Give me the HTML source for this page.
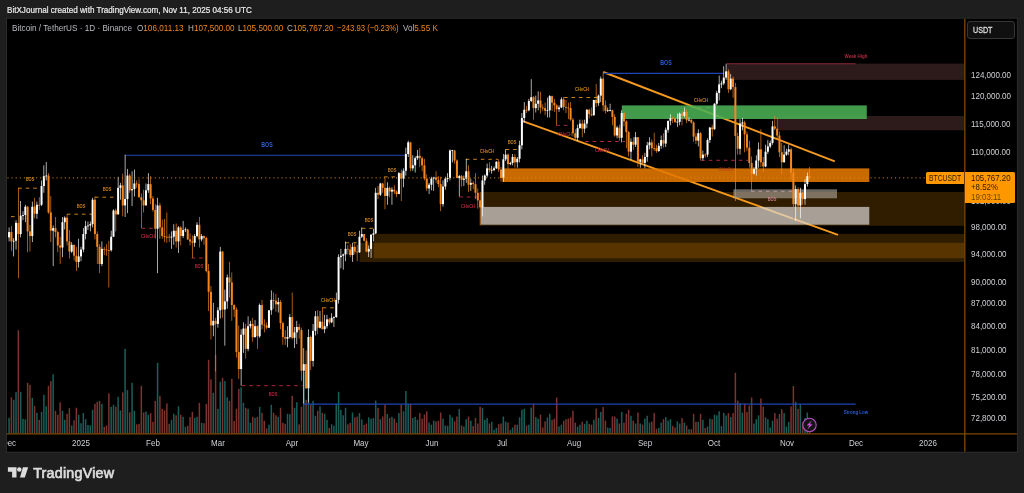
<!DOCTYPE html>
<html><head><meta charset="utf-8"><title>BTCUSDT</title>
<style>
html,body{margin:0;padding:0;background:#1e1e1e;}
body{width:1024px;height:493px;position:relative;overflow:hidden;font-family:"Liberation Sans",sans-serif;}
.t{position:absolute;white-space:nowrap;line-height:1.2;font-family:"Liberation Sans",sans-serif;}
#root{position:absolute;left:0;top:0;width:1024px;height:493px;will-change:transform;}
#clip{position:absolute;left:7.0px;top:18.7px;width:1009.9px;height:433.0px;overflow:hidden;}
</style></head><body>
<div id="root">
<svg width="1024" height="493" viewBox="0 0 1024 493" style="position:absolute;left:0;top:0">
<rect x="6.0" y="17.7" width="1011.9" height="435.0" fill="#2b2b2b"/>
<rect x="7.0" y="18.7" width="1009.9" height="433.0" fill="#000"/>
<clipPath id="cp"><rect x="7.0" y="18.7" width="957.5" height="415.1"/></clipPath>
<g clip-path="url(#cp)">
<rect x="8.31" y="417.80" width="1.5" height="16.00" fill="#195f59"/>
<rect x="10.64" y="397.30" width="1.5" height="36.50" fill="#7d332f"/>
<rect x="12.96" y="399.80" width="1.5" height="34.00" fill="#195f59"/>
<rect x="15.28" y="392.10" width="1.5" height="41.70" fill="#195f59"/>
<rect x="17.60" y="330.20" width="1.5" height="103.60" fill="#7d332f"/>
<rect x="19.92" y="391.80" width="1.5" height="42.00" fill="#195f59"/>
<rect x="22.24" y="418.80" width="1.5" height="15.00" fill="#195f59"/>
<rect x="24.56" y="419.40" width="1.5" height="14.40" fill="#195f59"/>
<rect x="26.88" y="382.80" width="1.5" height="51.00" fill="#7d332f"/>
<rect x="29.20" y="384.80" width="1.5" height="49.00" fill="#7d332f"/>
<rect x="31.52" y="397.80" width="1.5" height="36.00" fill="#195f59"/>
<rect x="33.84" y="405.80" width="1.5" height="28.00" fill="#7d332f"/>
<rect x="36.16" y="412.80" width="1.5" height="21.00" fill="#195f59"/>
<rect x="38.48" y="419.80" width="1.5" height="14.00" fill="#7d332f"/>
<rect x="40.80" y="411.80" width="1.5" height="22.00" fill="#195f59"/>
<rect x="43.12" y="394.80" width="1.5" height="39.00" fill="#195f59"/>
<rect x="45.44" y="406.30" width="1.5" height="27.50" fill="#195f59"/>
<rect x="47.76" y="385.80" width="1.5" height="48.00" fill="#7d332f"/>
<rect x="50.08" y="381.10" width="1.5" height="52.70" fill="#7d332f"/>
<rect x="52.40" y="374.30" width="1.5" height="59.50" fill="#195f59"/>
<rect x="54.72" y="410.80" width="1.5" height="23.00" fill="#7d332f"/>
<rect x="57.05" y="414.80" width="1.5" height="19.00" fill="#7d332f"/>
<rect x="59.37" y="402.30" width="1.5" height="31.50" fill="#7d332f"/>
<rect x="61.69" y="410.80" width="1.5" height="23.00" fill="#195f59"/>
<rect x="64.01" y="419.80" width="1.5" height="14.00" fill="#195f59"/>
<rect x="66.33" y="413.80" width="1.5" height="20.00" fill="#7d332f"/>
<rect x="68.65" y="408.10" width="1.5" height="25.70" fill="#7d332f"/>
<rect x="70.97" y="425.50" width="1.5" height="8.30" fill="#195f59"/>
<rect x="73.29" y="420.30" width="1.5" height="13.50" fill="#7d332f"/>
<rect x="75.61" y="407.80" width="1.5" height="26.00" fill="#7d332f"/>
<rect x="77.93" y="414.80" width="1.5" height="19.00" fill="#195f59"/>
<rect x="80.25" y="423.20" width="1.5" height="10.60" fill="#195f59"/>
<rect x="82.57" y="413.10" width="1.5" height="20.70" fill="#195f59"/>
<rect x="84.89" y="419.20" width="1.5" height="14.60" fill="#195f59"/>
<rect x="87.21" y="425.00" width="1.5" height="8.80" fill="#195f59"/>
<rect x="89.53" y="425.50" width="1.5" height="8.30" fill="#195f59"/>
<rect x="91.85" y="409.80" width="1.5" height="24.00" fill="#195f59"/>
<rect x="94.17" y="403.80" width="1.5" height="30.00" fill="#7d332f"/>
<rect x="96.49" y="401.80" width="1.5" height="32.00" fill="#7d332f"/>
<rect x="98.81" y="400.80" width="1.5" height="33.00" fill="#7d332f"/>
<rect x="101.13" y="403.80" width="1.5" height="30.00" fill="#195f59"/>
<rect x="103.45" y="426.80" width="1.5" height="7.00" fill="#7d332f"/>
<rect x="105.78" y="425.50" width="1.5" height="8.30" fill="#7d332f"/>
<rect x="108.10" y="393.30" width="1.5" height="40.50" fill="#7d332f"/>
<rect x="110.42" y="406.80" width="1.5" height="27.00" fill="#195f59"/>
<rect x="112.74" y="404.80" width="1.5" height="29.00" fill="#195f59"/>
<rect x="115.06" y="406.80" width="1.5" height="27.00" fill="#7d332f"/>
<rect x="117.38" y="396.80" width="1.5" height="37.00" fill="#195f59"/>
<rect x="119.70" y="410.40" width="1.5" height="23.40" fill="#195f59"/>
<rect x="122.02" y="392.40" width="1.5" height="41.40" fill="#7d332f"/>
<rect x="124.34" y="348.80" width="1.5" height="85.00" fill="#195f59"/>
<rect x="126.66" y="390.10" width="1.5" height="43.70" fill="#195f59"/>
<rect x="128.98" y="412.40" width="1.5" height="21.40" fill="#7d332f"/>
<rect x="131.30" y="382.80" width="1.5" height="51.00" fill="#195f59"/>
<rect x="133.62" y="410.80" width="1.5" height="23.00" fill="#195f59"/>
<rect x="135.94" y="424.30" width="1.5" height="9.50" fill="#7d332f"/>
<rect x="138.26" y="423.80" width="1.5" height="10.00" fill="#7d332f"/>
<rect x="140.58" y="385.80" width="1.5" height="48.00" fill="#7d332f"/>
<rect x="142.90" y="412.40" width="1.5" height="21.40" fill="#7d332f"/>
<rect x="145.22" y="411.50" width="1.5" height="22.30" fill="#195f59"/>
<rect x="147.54" y="414.80" width="1.5" height="19.00" fill="#195f59"/>
<rect x="149.87" y="413.10" width="1.5" height="20.70" fill="#7d332f"/>
<rect x="152.19" y="421.80" width="1.5" height="12.00" fill="#7d332f"/>
<rect x="154.51" y="400.80" width="1.5" height="33.00" fill="#7d332f"/>
<rect x="156.83" y="362.80" width="1.5" height="71.00" fill="#195f59"/>
<rect x="159.15" y="395.80" width="1.5" height="38.00" fill="#7d332f"/>
<rect x="161.47" y="408.80" width="1.5" height="25.00" fill="#7d332f"/>
<rect x="163.79" y="410.40" width="1.5" height="23.40" fill="#7d332f"/>
<rect x="166.11" y="403.40" width="1.5" height="30.40" fill="#7d332f"/>
<rect x="168.43" y="423.80" width="1.5" height="10.00" fill="#7d332f"/>
<rect x="170.75" y="419.80" width="1.5" height="14.00" fill="#195f59"/>
<rect x="173.07" y="413.80" width="1.5" height="20.00" fill="#195f59"/>
<rect x="175.39" y="415.30" width="1.5" height="18.50" fill="#7d332f"/>
<rect x="177.71" y="406.30" width="1.5" height="27.50" fill="#195f59"/>
<rect x="180.03" y="414.80" width="1.5" height="19.00" fill="#7d332f"/>
<rect x="182.35" y="416.80" width="1.5" height="17.00" fill="#195f59"/>
<rect x="184.67" y="426.80" width="1.5" height="7.00" fill="#195f59"/>
<rect x="186.99" y="425.80" width="1.5" height="8.00" fill="#7d332f"/>
<rect x="189.31" y="417.10" width="1.5" height="16.70" fill="#7d332f"/>
<rect x="191.63" y="411.80" width="1.5" height="22.00" fill="#7d332f"/>
<rect x="193.95" y="417.80" width="1.5" height="16.00" fill="#195f59"/>
<rect x="196.28" y="416.80" width="1.5" height="17.00" fill="#195f59"/>
<rect x="198.60" y="402.80" width="1.5" height="31.00" fill="#7d332f"/>
<rect x="200.92" y="422.80" width="1.5" height="11.00" fill="#195f59"/>
<rect x="203.24" y="423.20" width="1.5" height="10.60" fill="#7d332f"/>
<rect x="205.56" y="403.80" width="1.5" height="30.00" fill="#7d332f"/>
<rect x="207.88" y="359.80" width="1.5" height="74.00" fill="#7d332f"/>
<rect x="210.20" y="379.30" width="1.5" height="54.50" fill="#7d332f"/>
<rect x="212.52" y="392.80" width="1.5" height="41.00" fill="#195f59"/>
<rect x="214.84" y="354.80" width="1.5" height="79.00" fill="#7d332f"/>
<rect x="217.16" y="408.80" width="1.5" height="25.00" fill="#195f59"/>
<rect x="219.48" y="381.80" width="1.5" height="52.00" fill="#195f59"/>
<rect x="221.80" y="377.80" width="1.5" height="56.00" fill="#7d332f"/>
<rect x="224.12" y="381.10" width="1.5" height="52.70" fill="#195f59"/>
<rect x="226.44" y="397.30" width="1.5" height="36.50" fill="#195f59"/>
<rect x="228.76" y="400.80" width="1.5" height="33.00" fill="#7d332f"/>
<rect x="231.08" y="378.80" width="1.5" height="55.00" fill="#7d332f"/>
<rect x="233.40" y="421.00" width="1.5" height="12.80" fill="#7d332f"/>
<rect x="235.72" y="408.80" width="1.5" height="25.00" fill="#7d332f"/>
<rect x="238.04" y="388.80" width="1.5" height="45.00" fill="#7d332f"/>
<rect x="240.36" y="387.20" width="1.5" height="46.60" fill="#195f59"/>
<rect x="242.69" y="402.80" width="1.5" height="31.00" fill="#195f59"/>
<rect x="245.01" y="407.80" width="1.5" height="26.00" fill="#7d332f"/>
<rect x="247.33" y="408.80" width="1.5" height="25.00" fill="#195f59"/>
<rect x="249.65" y="422.80" width="1.5" height="11.00" fill="#195f59"/>
<rect x="251.97" y="416.80" width="1.5" height="17.00" fill="#7d332f"/>
<rect x="254.29" y="417.80" width="1.5" height="16.00" fill="#195f59"/>
<rect x="256.61" y="416.80" width="1.5" height="17.00" fill="#7d332f"/>
<rect x="258.93" y="406.80" width="1.5" height="27.00" fill="#195f59"/>
<rect x="261.25" y="412.80" width="1.5" height="21.00" fill="#7d332f"/>
<rect x="263.57" y="420.80" width="1.5" height="13.00" fill="#7d332f"/>
<rect x="265.89" y="428.40" width="1.5" height="5.40" fill="#7d332f"/>
<rect x="268.21" y="424.80" width="1.5" height="9.00" fill="#195f59"/>
<rect x="270.53" y="404.80" width="1.5" height="29.00" fill="#195f59"/>
<rect x="272.85" y="412.80" width="1.5" height="21.00" fill="#7d332f"/>
<rect x="275.17" y="415.30" width="1.5" height="18.50" fill="#7d332f"/>
<rect x="277.49" y="416.80" width="1.5" height="17.00" fill="#195f59"/>
<rect x="279.81" y="407.80" width="1.5" height="26.00" fill="#7d332f"/>
<rect x="282.13" y="422.80" width="1.5" height="11.00" fill="#7d332f"/>
<rect x="284.45" y="423.80" width="1.5" height="10.00" fill="#7d332f"/>
<rect x="286.77" y="413.80" width="1.5" height="20.00" fill="#195f59"/>
<rect x="289.10" y="414.20" width="1.5" height="19.60" fill="#195f59"/>
<rect x="291.42" y="395.80" width="1.5" height="38.00" fill="#7d332f"/>
<rect x="293.74" y="407.80" width="1.5" height="26.00" fill="#195f59"/>
<rect x="296.06" y="402.30" width="1.5" height="31.50" fill="#195f59"/>
<rect x="298.38" y="424.30" width="1.5" height="9.50" fill="#7d332f"/>
<rect x="300.70" y="406.80" width="1.5" height="27.00" fill="#7d332f"/>
<rect x="303.02" y="371.80" width="1.5" height="62.00" fill="#195f59"/>
<rect x="305.34" y="399.80" width="1.5" height="34.00" fill="#7d332f"/>
<rect x="307.66" y="383.80" width="1.5" height="50.00" fill="#195f59"/>
<rect x="309.98" y="403.80" width="1.5" height="30.00" fill="#7d332f"/>
<rect x="312.30" y="400.80" width="1.5" height="33.00" fill="#195f59"/>
<rect x="314.62" y="415.80" width="1.5" height="18.00" fill="#195f59"/>
<rect x="316.94" y="410.80" width="1.5" height="23.00" fill="#7d332f"/>
<rect x="319.26" y="406.30" width="1.5" height="27.50" fill="#195f59"/>
<rect x="321.58" y="412.80" width="1.5" height="21.00" fill="#7d332f"/>
<rect x="323.90" y="413.80" width="1.5" height="20.00" fill="#195f59"/>
<rect x="326.22" y="419.80" width="1.5" height="14.00" fill="#195f59"/>
<rect x="328.54" y="427.80" width="1.5" height="6.00" fill="#7d332f"/>
<rect x="330.86" y="424.30" width="1.5" height="9.50" fill="#195f59"/>
<rect x="333.18" y="425.80" width="1.5" height="8.00" fill="#195f59"/>
<rect x="335.50" y="403.80" width="1.5" height="30.00" fill="#195f59"/>
<rect x="337.83" y="391.80" width="1.5" height="42.00" fill="#195f59"/>
<rect x="340.15" y="409.80" width="1.5" height="24.00" fill="#195f59"/>
<rect x="342.47" y="415.30" width="1.5" height="18.50" fill="#195f59"/>
<rect x="344.79" y="407.80" width="1.5" height="26.00" fill="#195f59"/>
<rect x="347.11" y="424.30" width="1.5" height="9.50" fill="#7d332f"/>
<rect x="349.43" y="422.80" width="1.5" height="11.00" fill="#7d332f"/>
<rect x="351.75" y="412.50" width="1.5" height="21.30" fill="#195f59"/>
<rect x="354.07" y="417.40" width="1.5" height="16.40" fill="#7d332f"/>
<rect x="356.39" y="416.50" width="1.5" height="17.30" fill="#7d332f"/>
<rect x="358.71" y="413.10" width="1.5" height="20.70" fill="#195f59"/>
<rect x="361.03" y="419.40" width="1.5" height="14.40" fill="#195f59"/>
<rect x="363.35" y="424.80" width="1.5" height="9.00" fill="#7d332f"/>
<rect x="365.67" y="423.50" width="1.5" height="10.30" fill="#7d332f"/>
<rect x="367.99" y="417.40" width="1.5" height="16.40" fill="#195f59"/>
<rect x="370.31" y="418.80" width="1.5" height="15.00" fill="#195f59"/>
<rect x="372.63" y="418.00" width="1.5" height="15.80" fill="#195f59"/>
<rect x="374.95" y="400.60" width="1.5" height="33.20" fill="#195f59"/>
<rect x="377.27" y="407.80" width="1.5" height="26.00" fill="#7d332f"/>
<rect x="379.59" y="419.20" width="1.5" height="14.60" fill="#195f59"/>
<rect x="381.92" y="416.50" width="1.5" height="17.30" fill="#7d332f"/>
<rect x="384.24" y="404.60" width="1.5" height="29.20" fill="#7d332f"/>
<rect x="386.56" y="414.00" width="1.5" height="19.80" fill="#195f59"/>
<rect x="388.88" y="418.00" width="1.5" height="15.80" fill="#7d332f"/>
<rect x="391.20" y="416.80" width="1.5" height="17.00" fill="#195f59"/>
<rect x="393.52" y="418.60" width="1.5" height="15.20" fill="#7d332f"/>
<rect x="395.84" y="422.60" width="1.5" height="11.20" fill="#7d332f"/>
<rect x="398.16" y="413.10" width="1.5" height="20.70" fill="#195f59"/>
<rect x="400.48" y="404.80" width="1.5" height="29.00" fill="#7d332f"/>
<rect x="402.80" y="411.30" width="1.5" height="22.50" fill="#195f59"/>
<rect x="405.12" y="391.00" width="1.5" height="42.80" fill="#195f59"/>
<rect x="407.44" y="404.00" width="1.5" height="29.80" fill="#195f59"/>
<rect x="409.76" y="404.00" width="1.5" height="29.80" fill="#7d332f"/>
<rect x="412.08" y="418.00" width="1.5" height="15.80" fill="#195f59"/>
<rect x="414.40" y="416.80" width="1.5" height="17.00" fill="#195f59"/>
<rect x="416.72" y="419.80" width="1.5" height="14.00" fill="#195f59"/>
<rect x="419.04" y="413.10" width="1.5" height="20.70" fill="#7d332f"/>
<rect x="421.36" y="418.60" width="1.5" height="15.20" fill="#7d332f"/>
<rect x="423.68" y="414.60" width="1.5" height="19.20" fill="#7d332f"/>
<rect x="426.00" y="411.30" width="1.5" height="22.50" fill="#7d332f"/>
<rect x="428.32" y="422.60" width="1.5" height="11.20" fill="#195f59"/>
<rect x="430.65" y="424.70" width="1.5" height="9.10" fill="#195f59"/>
<rect x="432.97" y="420.70" width="1.5" height="13.10" fill="#195f59"/>
<rect x="435.29" y="421.40" width="1.5" height="12.40" fill="#7d332f"/>
<rect x="437.61" y="420.70" width="1.5" height="13.10" fill="#7d332f"/>
<rect x="439.93" y="412.50" width="1.5" height="21.30" fill="#7d332f"/>
<rect x="442.25" y="418.60" width="1.5" height="15.20" fill="#195f59"/>
<rect x="444.57" y="425.50" width="1.5" height="8.30" fill="#195f59"/>
<rect x="446.89" y="425.80" width="1.5" height="8.00" fill="#195f59"/>
<rect x="449.21" y="414.80" width="1.5" height="19.00" fill="#195f59"/>
<rect x="451.53" y="417.40" width="1.5" height="16.40" fill="#195f59"/>
<rect x="453.85" y="421.40" width="1.5" height="12.40" fill="#7d332f"/>
<rect x="456.17" y="416.50" width="1.5" height="17.30" fill="#7d332f"/>
<rect x="458.49" y="409.10" width="1.5" height="24.70" fill="#195f59"/>
<rect x="460.81" y="425.50" width="1.5" height="8.30" fill="#7d332f"/>
<rect x="463.13" y="426.50" width="1.5" height="7.30" fill="#195f59"/>
<rect x="465.45" y="419.20" width="1.5" height="14.60" fill="#195f59"/>
<rect x="467.77" y="416.50" width="1.5" height="17.30" fill="#7d332f"/>
<rect x="470.09" y="420.70" width="1.5" height="13.10" fill="#195f59"/>
<rect x="472.41" y="425.90" width="1.5" height="7.90" fill="#7d332f"/>
<rect x="474.74" y="417.80" width="1.5" height="16.00" fill="#7d332f"/>
<rect x="477.06" y="423.50" width="1.5" height="10.30" fill="#7d332f"/>
<rect x="479.38" y="406.70" width="1.5" height="27.10" fill="#7d332f"/>
<rect x="481.70" y="407.80" width="1.5" height="26.00" fill="#195f59"/>
<rect x="484.02" y="419.80" width="1.5" height="14.00" fill="#195f59"/>
<rect x="486.34" y="418.00" width="1.5" height="15.80" fill="#195f59"/>
<rect x="488.66" y="423.50" width="1.5" height="10.30" fill="#7d332f"/>
<rect x="490.98" y="421.80" width="1.5" height="12.00" fill="#195f59"/>
<rect x="493.30" y="429.80" width="1.5" height="4.00" fill="#195f59"/>
<rect x="495.62" y="427.80" width="1.5" height="6.00" fill="#195f59"/>
<rect x="497.94" y="424.10" width="1.5" height="9.70" fill="#7d332f"/>
<rect x="500.26" y="423.50" width="1.5" height="10.30" fill="#7d332f"/>
<rect x="502.58" y="416.50" width="1.5" height="17.30" fill="#195f59"/>
<rect x="504.90" y="421.60" width="1.5" height="12.20" fill="#195f59"/>
<rect x="507.22" y="422.60" width="1.5" height="11.20" fill="#7d332f"/>
<rect x="509.54" y="429.80" width="1.5" height="4.00" fill="#195f59"/>
<rect x="511.86" y="427.50" width="1.5" height="6.30" fill="#195f59"/>
<rect x="514.18" y="424.70" width="1.5" height="9.10" fill="#7d332f"/>
<rect x="516.50" y="424.70" width="1.5" height="9.10" fill="#195f59"/>
<rect x="518.82" y="417.40" width="1.5" height="16.40" fill="#195f59"/>
<rect x="521.14" y="409.80" width="1.5" height="24.00" fill="#195f59"/>
<rect x="523.47" y="408.80" width="1.5" height="25.00" fill="#195f59"/>
<rect x="525.79" y="425.50" width="1.5" height="8.30" fill="#7d332f"/>
<rect x="528.11" y="424.70" width="1.5" height="9.10" fill="#195f59"/>
<rect x="530.43" y="407.60" width="1.5" height="26.20" fill="#195f59"/>
<rect x="532.75" y="403.60" width="1.5" height="30.20" fill="#7d332f"/>
<rect x="535.07" y="417.10" width="1.5" height="16.70" fill="#195f59"/>
<rect x="537.39" y="418.60" width="1.5" height="15.20" fill="#195f59"/>
<rect x="539.71" y="414.60" width="1.5" height="19.20" fill="#7d332f"/>
<rect x="542.03" y="427.50" width="1.5" height="6.30" fill="#7d332f"/>
<rect x="544.35" y="421.40" width="1.5" height="12.40" fill="#7d332f"/>
<rect x="546.67" y="417.40" width="1.5" height="16.40" fill="#195f59"/>
<rect x="548.99" y="413.80" width="1.5" height="20.00" fill="#195f59"/>
<rect x="551.31" y="419.80" width="1.5" height="14.00" fill="#7d332f"/>
<rect x="553.63" y="418.60" width="1.5" height="15.20" fill="#7d332f"/>
<rect x="555.95" y="397.50" width="1.5" height="36.30" fill="#7d332f"/>
<rect x="558.27" y="426.50" width="1.5" height="7.30" fill="#195f59"/>
<rect x="560.59" y="424.70" width="1.5" height="9.10" fill="#195f59"/>
<rect x="562.91" y="420.70" width="1.5" height="13.10" fill="#7d332f"/>
<rect x="565.23" y="419.20" width="1.5" height="14.60" fill="#7d332f"/>
<rect x="567.56" y="418.60" width="1.5" height="15.20" fill="#7d332f"/>
<rect x="569.88" y="417.40" width="1.5" height="16.40" fill="#7d332f"/>
<rect x="572.20" y="410.70" width="1.5" height="23.10" fill="#7d332f"/>
<rect x="574.52" y="422.60" width="1.5" height="11.20" fill="#7d332f"/>
<rect x="576.84" y="426.50" width="1.5" height="7.30" fill="#195f59"/>
<rect x="579.16" y="424.70" width="1.5" height="9.10" fill="#195f59"/>
<rect x="581.48" y="421.80" width="1.5" height="12.00" fill="#7d332f"/>
<rect x="583.80" y="423.80" width="1.5" height="10.00" fill="#195f59"/>
<rect x="586.12" y="420.70" width="1.5" height="13.10" fill="#195f59"/>
<rect x="588.44" y="423.80" width="1.5" height="10.00" fill="#7d332f"/>
<rect x="590.76" y="424.70" width="1.5" height="9.10" fill="#7d332f"/>
<rect x="593.08" y="419.80" width="1.5" height="14.00" fill="#195f59"/>
<rect x="595.40" y="408.50" width="1.5" height="25.30" fill="#7d332f"/>
<rect x="597.72" y="418.00" width="1.5" height="15.80" fill="#195f59"/>
<rect x="600.04" y="411.90" width="1.5" height="21.90" fill="#195f59"/>
<rect x="602.36" y="407.00" width="1.5" height="26.80" fill="#7d332f"/>
<rect x="604.68" y="420.70" width="1.5" height="13.10" fill="#7d332f"/>
<rect x="607.00" y="427.50" width="1.5" height="6.30" fill="#195f59"/>
<rect x="609.32" y="428.00" width="1.5" height="5.80" fill="#195f59"/>
<rect x="611.64" y="416.50" width="1.5" height="17.30" fill="#7d332f"/>
<rect x="613.97" y="416.50" width="1.5" height="17.30" fill="#7d332f"/>
<rect x="616.29" y="418.60" width="1.5" height="15.20" fill="#195f59"/>
<rect x="618.61" y="423.50" width="1.5" height="10.30" fill="#7d332f"/>
<rect x="620.93" y="411.90" width="1.5" height="21.90" fill="#195f59"/>
<rect x="623.25" y="422.60" width="1.5" height="11.20" fill="#7d332f"/>
<rect x="625.57" y="413.80" width="1.5" height="20.00" fill="#7d332f"/>
<rect x="627.89" y="409.80" width="1.5" height="24.00" fill="#7d332f"/>
<rect x="630.21" y="415.80" width="1.5" height="18.00" fill="#195f59"/>
<rect x="632.53" y="420.70" width="1.5" height="13.10" fill="#7d332f"/>
<rect x="634.85" y="423.50" width="1.5" height="10.30" fill="#195f59"/>
<rect x="637.17" y="412.50" width="1.5" height="21.30" fill="#7d332f"/>
<rect x="639.49" y="423.50" width="1.5" height="10.30" fill="#195f59"/>
<rect x="641.81" y="424.70" width="1.5" height="9.10" fill="#7d332f"/>
<rect x="644.13" y="418.60" width="1.5" height="15.20" fill="#195f59"/>
<rect x="646.45" y="415.80" width="1.5" height="18.00" fill="#195f59"/>
<rect x="648.77" y="422.60" width="1.5" height="11.20" fill="#195f59"/>
<rect x="651.09" y="421.60" width="1.5" height="12.20" fill="#7d332f"/>
<rect x="653.41" y="412.90" width="1.5" height="20.90" fill="#7d332f"/>
<rect x="655.73" y="428.70" width="1.5" height="5.10" fill="#7d332f"/>
<rect x="658.05" y="428.00" width="1.5" height="5.80" fill="#195f59"/>
<rect x="660.38" y="422.60" width="1.5" height="11.20" fill="#195f59"/>
<rect x="662.70" y="419.20" width="1.5" height="14.60" fill="#7d332f"/>
<rect x="665.02" y="417.10" width="1.5" height="16.70" fill="#195f59"/>
<rect x="667.34" y="420.70" width="1.5" height="13.10" fill="#195f59"/>
<rect x="669.66" y="419.20" width="1.5" height="14.60" fill="#195f59"/>
<rect x="671.98" y="425.90" width="1.5" height="7.90" fill="#7d332f"/>
<rect x="674.30" y="427.50" width="1.5" height="6.30" fill="#7d332f"/>
<rect x="676.62" y="421.40" width="1.5" height="12.40" fill="#195f59"/>
<rect x="678.94" y="423.50" width="1.5" height="10.30" fill="#195f59"/>
<rect x="681.26" y="418.00" width="1.5" height="15.80" fill="#7d332f"/>
<rect x="683.58" y="422.60" width="1.5" height="11.20" fill="#195f59"/>
<rect x="685.90" y="425.50" width="1.5" height="8.30" fill="#7d332f"/>
<rect x="688.22" y="429.20" width="1.5" height="4.60" fill="#195f59"/>
<rect x="690.54" y="429.20" width="1.5" height="4.60" fill="#7d332f"/>
<rect x="692.86" y="413.80" width="1.5" height="20.00" fill="#7d332f"/>
<rect x="695.18" y="421.80" width="1.5" height="12.00" fill="#7d332f"/>
<rect x="697.50" y="421.80" width="1.5" height="12.00" fill="#195f59"/>
<rect x="699.82" y="413.80" width="1.5" height="20.00" fill="#7d332f"/>
<rect x="702.14" y="419.80" width="1.5" height="14.00" fill="#195f59"/>
<rect x="704.46" y="428.00" width="1.5" height="5.80" fill="#7d332f"/>
<rect x="706.78" y="426.50" width="1.5" height="7.30" fill="#195f59"/>
<rect x="709.11" y="418.60" width="1.5" height="15.20" fill="#195f59"/>
<rect x="711.43" y="419.20" width="1.5" height="14.60" fill="#7d332f"/>
<rect x="713.75" y="414.70" width="1.5" height="19.10" fill="#195f59"/>
<rect x="716.07" y="415.30" width="1.5" height="18.50" fill="#195f59"/>
<rect x="718.39" y="411.30" width="1.5" height="22.50" fill="#195f59"/>
<rect x="720.71" y="425.90" width="1.5" height="7.90" fill="#195f59"/>
<rect x="723.03" y="412.80" width="1.5" height="21.00" fill="#195f59"/>
<rect x="725.35" y="415.50" width="1.5" height="18.30" fill="#195f59"/>
<rect x="727.67" y="413.10" width="1.5" height="20.70" fill="#7d332f"/>
<rect x="729.99" y="417.10" width="1.5" height="16.70" fill="#195f59"/>
<rect x="732.31" y="413.10" width="1.5" height="20.70" fill="#7d332f"/>
<rect x="734.63" y="372.80" width="1.5" height="61.00" fill="#7d332f"/>
<rect x="736.95" y="400.60" width="1.5" height="33.20" fill="#7d332f"/>
<rect x="739.27" y="403.10" width="1.5" height="30.70" fill="#195f59"/>
<rect x="741.59" y="412.50" width="1.5" height="21.30" fill="#195f59"/>
<rect x="743.91" y="403.60" width="1.5" height="30.20" fill="#7d332f"/>
<rect x="746.23" y="411.90" width="1.5" height="21.90" fill="#7d332f"/>
<rect x="748.55" y="405.60" width="1.5" height="28.20" fill="#7d332f"/>
<rect x="750.87" y="397.50" width="1.5" height="36.30" fill="#7d332f"/>
<rect x="753.20" y="423.50" width="1.5" height="10.30" fill="#195f59"/>
<rect x="755.52" y="419.20" width="1.5" height="14.60" fill="#195f59"/>
<rect x="757.84" y="415.30" width="1.5" height="18.50" fill="#195f59"/>
<rect x="760.16" y="398.50" width="1.5" height="35.30" fill="#7d332f"/>
<rect x="762.48" y="406.70" width="1.5" height="27.10" fill="#7d332f"/>
<rect x="764.80" y="417.40" width="1.5" height="16.40" fill="#195f59"/>
<rect x="767.12" y="419.20" width="1.5" height="14.60" fill="#195f59"/>
<rect x="769.44" y="427.50" width="1.5" height="6.30" fill="#195f59"/>
<rect x="771.76" y="420.70" width="1.5" height="13.10" fill="#195f59"/>
<rect x="774.08" y="413.10" width="1.5" height="20.70" fill="#7d332f"/>
<rect x="776.40" y="418.60" width="1.5" height="15.20" fill="#7d332f"/>
<rect x="778.72" y="414.00" width="1.5" height="19.80" fill="#7d332f"/>
<rect x="781.04" y="409.20" width="1.5" height="24.60" fill="#7d332f"/>
<rect x="783.36" y="413.10" width="1.5" height="20.70" fill="#195f59"/>
<rect x="785.68" y="426.50" width="1.5" height="7.30" fill="#195f59"/>
<rect x="788.00" y="421.80" width="1.5" height="12.00" fill="#195f59"/>
<rect x="790.32" y="406.40" width="1.5" height="27.40" fill="#7d332f"/>
<rect x="792.64" y="386.00" width="1.5" height="47.80" fill="#7d332f"/>
<rect x="794.96" y="401.80" width="1.5" height="32.00" fill="#195f59"/>
<rect x="797.28" y="408.80" width="1.5" height="25.00" fill="#7d332f"/>
<rect x="799.61" y="404.00" width="1.5" height="29.80" fill="#195f59"/>
<rect x="801.93" y="422.30" width="1.5" height="11.50" fill="#7d332f"/>
<rect x="804.25" y="418.00" width="1.5" height="15.80" fill="#195f59"/>
<rect x="806.57" y="412.50" width="1.5" height="21.30" fill="#195f59"/>
<rect x="808.89" y="421.80" width="1.5" height="12.00" fill="#7d332f"/>
<line x1="18.2" y1="188.2" x2="37.7" y2="188.2" stroke="#c8801c" stroke-width="1.0" stroke-dasharray="3.6 3.9"/>
<line x1="11" y1="216.6" x2="15" y2="216.6" stroke="#c8801c" stroke-width="1.0" stroke-dasharray="3.6 3.9"/>
<line x1="66.9" y1="214.2" x2="92.5" y2="214.2" stroke="#c8801c" stroke-width="1.0" stroke-dasharray="3.6 3.9"/>
<line x1="94.9" y1="197.2" x2="116.8" y2="197.2" stroke="#c8801c" stroke-width="1.0" stroke-dasharray="3.6 3.9"/>
<line x1="141.6" y1="228.3" x2="155.7" y2="228.3" stroke="#b0283f" stroke-width="1.0" stroke-dasharray="3.6 3.9"/>
<line x1="191.6" y1="258" x2="204.4" y2="258" stroke="#b0283f" stroke-width="1.0" stroke-dasharray="3.6 3.9"/>
<line x1="241.7" y1="385.7" x2="302.5" y2="385.7" stroke="#b0283f" stroke-width="1.0" stroke-dasharray="3.6 3.9"/>
<line x1="322.6" y1="307.8" x2="334" y2="307.8" stroke="#c8801c" stroke-width="1.0" stroke-dasharray="3.6 3.9"/>
<line x1="345.6" y1="242.8" x2="357" y2="242.8" stroke="#c8801c" stroke-width="1.0" stroke-dasharray="3.6 3.9"/>
<line x1="361.8" y1="228.3" x2="374" y2="228.3" stroke="#c8801c" stroke-width="1.0" stroke-dasharray="3.6 3.9"/>
<line x1="384" y1="176.9" x2="398.2" y2="176.9" stroke="#c8801c" stroke-width="1.0" stroke-dasharray="3.6 3.9"/>
<line x1="459.3" y1="197" x2="477.2" y2="197" stroke="#b0283f" stroke-width="1.0" stroke-dasharray="3.6 3.9"/>
<line x1="465.8" y1="159.3" x2="498.2" y2="159.3" stroke="#c8801c" stroke-width="1.0" stroke-dasharray="3.6 3.9"/>
<line x1="505.6" y1="149.5" x2="517.5" y2="149.5" stroke="#c8801c" stroke-width="1.0" stroke-dasharray="3.6 3.9"/>
<line x1="564" y1="97.5" x2="598" y2="97.5" stroke="#c8801c" stroke-width="1.0" stroke-dasharray="3.6 3.9"/>
<line x1="556.3" y1="125.3" x2="571" y2="125.3" stroke="#b0283f" stroke-width="1.0" stroke-dasharray="3.6 3.9"/>
<line x1="585.2" y1="141.5" x2="625" y2="141.5" stroke="#b0283f" stroke-width="1.0" stroke-dasharray="3.6 3.9"/>
<line x1="691" y1="107.7" x2="711" y2="107.7" stroke="#8fbf5a" stroke-width="1.0" stroke-dasharray="3.6 3.9"/>
<line x1="701.3" y1="160.3" x2="748" y2="160.3" stroke="#b0283f" stroke-width="1.0" stroke-dasharray="3.6 3.9"/>
<line x1="751" y1="191.3" x2="792" y2="191.3" stroke="#c9808a" stroke-width="1.0" stroke-dasharray="3.6 3.9"/>
<line x1="603.3" y1="72" x2="834.8" y2="161.4" stroke="#f59a1f" stroke-width="1.9"/>
<line x1="522.7" y1="121.1" x2="838" y2="234.8" stroke="#f59a1f" stroke-width="1.9"/>
<line x1="125.3" y1="155.2" x2="406" y2="155.2" stroke="#1f45b5" stroke-width="1.1"/>
<line x1="603.7" y1="73.4" x2="724" y2="73.4" stroke="#1f45b5" stroke-width="1.1"/>
<line x1="304" y1="404.1" x2="855.7" y2="404.1" stroke="#1f45b5" stroke-width="1.3"/>
<rect x="726.8" y="63.6" width="237.70" height="16.30" fill="#2d1a1b" fill-opacity="1"/>
<rect x="777.5" y="116" width="187.00" height="14.30" fill="#2d1a1b" fill-opacity="1"/>
<rect x="621.8" y="105.4" width="245.00" height="13.60" fill="#4ab054" fill-opacity="0.88"/>
<rect x="502.4" y="168.4" width="366.90" height="13.60" fill="#e47900" fill-opacity="0.88"/>
<rect x="480.6" y="192" width="483.90" height="33.80" fill="#ff9800" fill-opacity="0.19"/>
<rect x="733.4" y="189.3" width="103.60" height="9.00" fill="#b0a69c" fill-opacity="0.62"/>
<rect x="480.6" y="206.9" width="388.70" height="17.80" fill="#dcd9d6" fill-opacity="0.7"/>
<rect x="373.8" y="233.9" width="590.70" height="24.30" fill="#ff9800" fill-opacity="0.19"/>
<rect x="359.6" y="242.8" width="604.90" height="19.20" fill="#ff9800" fill-opacity="0.19"/>
<line x1="726.8" y1="63.7" x2="855.6" y2="63.7" stroke="#8a2835" stroke-width="1.1"/>
<rect x="8.73" y="227.44" width="0.66" height="13.99" fill="#ffffff"/>
<rect x="8.06" y="232.06" width="2.0" height="5.33" fill="#ffffff"/>
<rect x="11.06" y="226.12" width="0.66" height="24.80" fill="#f5871f"/>
<rect x="10.39" y="232.06" width="2.0" height="9.36" fill="#f5871f"/>
<rect x="13.38" y="238.06" width="0.66" height="18.34" fill="#ffffff"/>
<rect x="12.71" y="240.75" width="2.0" height="0.80" fill="#ffffff"/>
<rect x="15.70" y="220.23" width="0.66" height="29.32" fill="#ffffff"/>
<rect x="15.03" y="222.84" width="2.0" height="17.91" fill="#ffffff"/>
<rect x="18.02" y="187.83" width="0.66" height="90.30" fill="#f5871f"/>
<rect x="17.35" y="222.84" width="2.0" height="11.22" fill="#f5871f"/>
<rect x="20.34" y="200.97" width="0.66" height="36.42" fill="#ffffff"/>
<rect x="19.67" y="215.68" width="2.0" height="18.37" fill="#ffffff"/>
<rect x="22.66" y="211.17" width="0.66" height="9.06" fill="#ffffff"/>
<rect x="21.99" y="215.04" width="2.0" height="0.80" fill="#ffffff"/>
<rect x="24.98" y="204.78" width="0.66" height="17.41" fill="#ffffff"/>
<rect x="24.31" y="206.69" width="2.0" height="8.35" fill="#ffffff"/>
<rect x="27.30" y="206.05" width="0.66" height="46.23" fill="#f5871f"/>
<rect x="26.63" y="206.69" width="2.0" height="24.71" fill="#f5871f"/>
<rect x="29.62" y="224.81" width="0.66" height="26.80" fill="#f5871f"/>
<rect x="28.95" y="231.40" width="2.0" height="4.66" fill="#f5871f"/>
<rect x="31.94" y="201.61" width="0.66" height="40.49" fill="#ffffff"/>
<rect x="31.27" y="206.69" width="2.0" height="29.37" fill="#ffffff"/>
<rect x="34.26" y="197.82" width="0.66" height="20.46" fill="#f5871f"/>
<rect x="33.59" y="206.69" width="2.0" height="7.06" fill="#f5871f"/>
<rect x="36.58" y="201.61" width="0.66" height="17.32" fill="#ffffff"/>
<rect x="35.91" y="204.78" width="2.0" height="8.97" fill="#ffffff"/>
<rect x="38.90" y="197.19" width="0.66" height="12.70" fill="#f5871f"/>
<rect x="38.23" y="204.78" width="2.0" height="0.80" fill="#f5871f"/>
<rect x="41.22" y="180.44" width="0.66" height="25.62" fill="#ffffff"/>
<rect x="40.55" y="185.97" width="2.0" height="18.81" fill="#ffffff"/>
<rect x="43.54" y="165.30" width="0.66" height="27.50" fill="#ffffff"/>
<rect x="42.87" y="176.16" width="2.0" height="9.81" fill="#ffffff"/>
<rect x="45.86" y="162.02" width="0.66" height="18.42" fill="#ffffff"/>
<rect x="45.19" y="175.56" width="2.0" height="0.80" fill="#ffffff"/>
<rect x="48.18" y="173.13" width="0.66" height="40.62" fill="#f5871f"/>
<rect x="47.51" y="175.56" width="2.0" height="36.90" fill="#f5871f"/>
<rect x="50.50" y="195.94" width="0.66" height="46.16" fill="#f5871f"/>
<rect x="49.83" y="212.46" width="2.0" height="18.28" fill="#f5871f"/>
<rect x="52.82" y="225.46" width="0.66" height="40.66" fill="#ffffff"/>
<rect x="52.15" y="228.10" width="2.0" height="2.64" fill="#ffffff"/>
<rect x="55.14" y="216.98" width="0.66" height="20.42" fill="#f5871f"/>
<rect x="54.47" y="228.10" width="2.0" height="3.97" fill="#f5871f"/>
<rect x="57.47" y="230.74" width="0.66" height="21.55" fill="#f5871f"/>
<rect x="56.80" y="232.06" width="2.0" height="13.41" fill="#f5871f"/>
<rect x="59.79" y="236.73" width="0.66" height="27.31" fill="#f5871f"/>
<rect x="59.12" y="245.47" width="2.0" height="2.04" fill="#f5871f"/>
<rect x="62.11" y="216.98" width="0.66" height="40.12" fill="#ffffff"/>
<rect x="61.44" y="222.19" width="2.0" height="25.32" fill="#ffffff"/>
<rect x="64.43" y="216.33" width="0.66" height="13.08" fill="#ffffff"/>
<rect x="63.76" y="217.63" width="2.0" height="4.56" fill="#ffffff"/>
<rect x="66.75" y="214.39" width="0.66" height="31.08" fill="#f5871f"/>
<rect x="66.08" y="217.63" width="2.0" height="23.79" fill="#f5871f"/>
<rect x="69.07" y="230.08" width="0.66" height="28.40" fill="#f5871f"/>
<rect x="68.40" y="241.42" width="2.0" height="10.18" fill="#f5871f"/>
<rect x="71.39" y="242.10" width="0.66" height="10.87" fill="#ffffff"/>
<rect x="70.72" y="244.80" width="2.0" height="6.80" fill="#ffffff"/>
<rect x="73.71" y="244.80" width="0.66" height="15.76" fill="#f5871f"/>
<rect x="73.04" y="244.80" width="2.0" height="10.92" fill="#f5871f"/>
<rect x="76.03" y="246.83" width="0.66" height="24.21" fill="#f5871f"/>
<rect x="75.36" y="255.72" width="2.0" height="6.23" fill="#f5871f"/>
<rect x="78.35" y="238.73" width="0.66" height="28.79" fill="#ffffff"/>
<rect x="77.68" y="256.41" width="2.0" height="5.54" fill="#ffffff"/>
<rect x="80.67" y="246.83" width="0.66" height="14.42" fill="#ffffff"/>
<rect x="80.00" y="249.55" width="2.0" height="6.85" fill="#ffffff"/>
<rect x="82.99" y="228.10" width="0.66" height="24.19" fill="#ffffff"/>
<rect x="82.32" y="234.06" width="2.0" height="15.49" fill="#ffffff"/>
<rect x="85.31" y="220.88" width="0.66" height="18.52" fill="#ffffff"/>
<rect x="84.64" y="226.12" width="2.0" height="7.94" fill="#ffffff"/>
<rect x="87.63" y="221.53" width="0.66" height="8.54" fill="#ffffff"/>
<rect x="86.96" y="225.46" width="2.0" height="0.80" fill="#ffffff"/>
<rect x="89.95" y="221.53" width="0.66" height="9.87" fill="#ffffff"/>
<rect x="89.28" y="224.15" width="2.0" height="1.31" fill="#ffffff"/>
<rect x="92.27" y="197.82" width="0.66" height="29.62" fill="#ffffff"/>
<rect x="91.60" y="199.71" width="2.0" height="24.44" fill="#ffffff"/>
<rect x="94.59" y="196.56" width="0.66" height="42.84" fill="#f5871f"/>
<rect x="93.92" y="199.71" width="2.0" height="34.35" fill="#f5871f"/>
<rect x="96.91" y="231.40" width="0.66" height="32.63" fill="#f5871f"/>
<rect x="96.24" y="234.06" width="2.0" height="12.77" fill="#f5871f"/>
<rect x="99.23" y="244.12" width="0.66" height="29.04" fill="#f5871f"/>
<rect x="98.56" y="246.83" width="2.0" height="17.20" fill="#f5871f"/>
<rect x="101.55" y="241.42" width="0.66" height="24.71" fill="#ffffff"/>
<rect x="100.88" y="248.87" width="2.0" height="15.16" fill="#ffffff"/>
<rect x="103.88" y="246.83" width="0.66" height="8.20" fill="#f5871f"/>
<rect x="103.20" y="248.87" width="2.0" height="0.80" fill="#f5871f"/>
<rect x="106.20" y="244.12" width="0.66" height="11.60" fill="#f5871f"/>
<rect x="105.53" y="249.55" width="2.0" height="0.80" fill="#f5871f"/>
<rect x="108.52" y="240.75" width="0.66" height="46.71" fill="#f5871f"/>
<rect x="107.85" y="250.23" width="2.0" height="0.80" fill="#f5871f"/>
<rect x="110.84" y="230.74" width="0.66" height="20.86" fill="#ffffff"/>
<rect x="110.17" y="236.73" width="2.0" height="13.51" fill="#ffffff"/>
<rect x="113.16" y="209.25" width="0.66" height="27.48" fill="#ffffff"/>
<rect x="112.49" y="210.53" width="2.0" height="26.20" fill="#ffffff"/>
<rect x="115.48" y="208.61" width="0.66" height="22.79" fill="#f5871f"/>
<rect x="114.81" y="210.53" width="2.0" height="3.86" fill="#f5871f"/>
<rect x="117.80" y="176.77" width="0.66" height="37.62" fill="#ffffff"/>
<rect x="117.13" y="187.83" width="2.0" height="26.56" fill="#ffffff"/>
<rect x="120.12" y="182.89" width="0.66" height="16.82" fill="#ffffff"/>
<rect x="119.45" y="185.36" width="2.0" height="2.47" fill="#ffffff"/>
<rect x="122.44" y="173.73" width="0.66" height="42.60" fill="#f5871f"/>
<rect x="121.77" y="185.36" width="2.0" height="20.06" fill="#f5871f"/>
<rect x="124.76" y="154.62" width="0.66" height="62.36" fill="#ffffff"/>
<rect x="124.09" y="199.08" width="2.0" height="6.34" fill="#ffffff"/>
<rect x="127.08" y="168.90" width="0.66" height="44.20" fill="#ffffff"/>
<rect x="126.41" y="175.56" width="2.0" height="23.52" fill="#ffffff"/>
<rect x="129.40" y="173.73" width="0.66" height="19.07" fill="#f5871f"/>
<rect x="128.73" y="175.56" width="2.0" height="14.76" fill="#f5871f"/>
<rect x="131.72" y="171.31" width="0.66" height="34.74" fill="#ffffff"/>
<rect x="131.05" y="189.07" width="2.0" height="1.24" fill="#ffffff"/>
<rect x="134.04" y="169.50" width="0.66" height="27.06" fill="#ffffff"/>
<rect x="133.37" y="183.51" width="2.0" height="5.56" fill="#ffffff"/>
<rect x="136.36" y="180.44" width="0.66" height="7.39" fill="#f5871f"/>
<rect x="135.69" y="183.51" width="2.0" height="0.80" fill="#f5871f"/>
<rect x="138.68" y="179.21" width="0.66" height="18.61" fill="#f5871f"/>
<rect x="138.01" y="184.12" width="2.0" height="13.07" fill="#f5871f"/>
<rect x="141.00" y="193.43" width="0.66" height="34.67" fill="#f5871f"/>
<rect x="140.33" y="197.19" width="2.0" height="3.15" fill="#f5871f"/>
<rect x="143.32" y="189.69" width="0.66" height="22.77" fill="#f5871f"/>
<rect x="142.65" y="200.34" width="2.0" height="5.07" fill="#f5871f"/>
<rect x="145.64" y="183.51" width="0.66" height="21.91" fill="#ffffff"/>
<rect x="144.97" y="190.31" width="2.0" height="15.10" fill="#ffffff"/>
<rect x="147.96" y="173.13" width="0.66" height="19.68" fill="#ffffff"/>
<rect x="147.29" y="184.12" width="2.0" height="6.19" fill="#ffffff"/>
<rect x="150.28" y="176.16" width="0.66" height="27.98" fill="#f5871f"/>
<rect x="149.62" y="184.12" width="2.0" height="14.33" fill="#f5871f"/>
<rect x="152.61" y="195.94" width="0.66" height="15.88" fill="#f5871f"/>
<rect x="151.94" y="198.45" width="2.0" height="11.44" fill="#f5871f"/>
<rect x="154.93" y="204.14" width="0.66" height="34.59" fill="#f5871f"/>
<rect x="154.26" y="209.89" width="2.0" height="18.87" fill="#f5871f"/>
<rect x="157.25" y="197.82" width="0.66" height="75.34" fill="#ffffff"/>
<rect x="156.58" y="205.42" width="2.0" height="23.34" fill="#ffffff"/>
<rect x="159.57" y="202.87" width="0.66" height="35.86" fill="#f5871f"/>
<rect x="158.90" y="205.42" width="2.0" height="22.02" fill="#f5871f"/>
<rect x="161.89" y="219.58" width="0.66" height="19.16" fill="#f5871f"/>
<rect x="161.22" y="227.44" width="2.0" height="8.62" fill="#f5871f"/>
<rect x="164.21" y="218.93" width="0.66" height="23.17" fill="#f5871f"/>
<rect x="163.54" y="236.06" width="2.0" height="0.80" fill="#f5871f"/>
<rect x="166.53" y="212.46" width="0.66" height="30.31" fill="#f5871f"/>
<rect x="165.86" y="236.73" width="2.0" height="0.80" fill="#f5871f"/>
<rect x="168.85" y="234.06" width="0.66" height="8.04" fill="#f5871f"/>
<rect x="168.18" y="236.73" width="2.0" height="0.80" fill="#f5871f"/>
<rect x="171.17" y="231.40" width="0.66" height="17.47" fill="#ffffff"/>
<rect x="170.50" y="236.73" width="2.0" height="0.80" fill="#ffffff"/>
<rect x="173.49" y="224.15" width="0.66" height="20.65" fill="#ffffff"/>
<rect x="172.82" y="230.74" width="2.0" height="5.99" fill="#ffffff"/>
<rect x="175.81" y="223.50" width="0.66" height="24.02" fill="#f5871f"/>
<rect x="175.14" y="230.74" width="2.0" height="10.68" fill="#f5871f"/>
<rect x="178.13" y="226.12" width="0.66" height="26.85" fill="#ffffff"/>
<rect x="177.46" y="227.44" width="2.0" height="13.99" fill="#ffffff"/>
<rect x="180.45" y="226.12" width="0.66" height="19.35" fill="#f5871f"/>
<rect x="179.78" y="227.44" width="2.0" height="8.62" fill="#f5871f"/>
<rect x="182.77" y="220.88" width="0.66" height="17.18" fill="#ffffff"/>
<rect x="182.10" y="230.08" width="2.0" height="5.98" fill="#ffffff"/>
<rect x="185.09" y="227.44" width="0.66" height="4.63" fill="#ffffff"/>
<rect x="184.42" y="229.42" width="2.0" height="0.80" fill="#ffffff"/>
<rect x="187.41" y="228.76" width="0.66" height="11.32" fill="#f5871f"/>
<rect x="186.74" y="229.42" width="2.0" height="9.99" fill="#f5871f"/>
<rect x="189.73" y="233.39" width="0.66" height="12.08" fill="#f5871f"/>
<rect x="189.06" y="239.41" width="2.0" height="2.02" fill="#f5871f"/>
<rect x="192.05" y="235.39" width="0.66" height="22.40" fill="#f5871f"/>
<rect x="191.38" y="241.42" width="2.0" height="1.35" fill="#f5871f"/>
<rect x="194.37" y="234.06" width="0.66" height="12.77" fill="#ffffff"/>
<rect x="193.70" y="236.06" width="2.0" height="6.71" fill="#ffffff"/>
<rect x="196.69" y="222.19" width="0.66" height="15.21" fill="#ffffff"/>
<rect x="196.03" y="224.81" width="2.0" height="11.25" fill="#ffffff"/>
<rect x="199.02" y="216.98" width="0.66" height="30.53" fill="#f5871f"/>
<rect x="198.35" y="224.81" width="2.0" height="14.60" fill="#f5871f"/>
<rect x="201.34" y="234.06" width="0.66" height="7.36" fill="#ffffff"/>
<rect x="200.67" y="236.06" width="2.0" height="3.35" fill="#ffffff"/>
<rect x="203.66" y="235.39" width="0.66" height="9.41" fill="#f5871f"/>
<rect x="202.99" y="236.06" width="2.0" height="2.01" fill="#f5871f"/>
<rect x="205.98" y="236.73" width="0.66" height="35.73" fill="#f5871f"/>
<rect x="205.31" y="238.06" width="2.0" height="32.98" fill="#f5871f"/>
<rect x="208.30" y="264.03" width="0.66" height="47.00" fill="#f5871f"/>
<rect x="207.63" y="271.04" width="2.0" height="20.77" fill="#f5871f"/>
<rect x="210.62" y="286.02" width="0.66" height="53.37" fill="#f5871f"/>
<rect x="209.95" y="291.82" width="2.0" height="33.62" fill="#f5871f"/>
<rect x="212.94" y="302.83" width="0.66" height="33.44" fill="#ffffff"/>
<rect x="212.27" y="320.85" width="2.0" height="4.59" fill="#ffffff"/>
<rect x="215.26" y="317.81" width="0.66" height="53.72" fill="#f5871f"/>
<rect x="214.59" y="320.85" width="2.0" height="3.05" fill="#f5871f"/>
<rect x="217.58" y="307.29" width="0.66" height="20.45" fill="#ffffff"/>
<rect x="216.91" y="310.28" width="2.0" height="13.63" fill="#ffffff"/>
<rect x="219.90" y="246.83" width="0.66" height="71.74" fill="#ffffff"/>
<rect x="219.23" y="251.60" width="2.0" height="58.68" fill="#ffffff"/>
<rect x="222.22" y="250.92" width="0.66" height="66.90" fill="#f5871f"/>
<rect x="221.55" y="251.60" width="2.0" height="57.93" fill="#f5871f"/>
<rect x="224.54" y="289.64" width="0.66" height="56.06" fill="#ffffff"/>
<rect x="223.87" y="301.35" width="2.0" height="8.18" fill="#ffffff"/>
<rect x="226.86" y="274.58" width="0.66" height="34.20" fill="#ffffff"/>
<rect x="226.19" y="277.42" width="2.0" height="23.93" fill="#ffffff"/>
<rect x="229.18" y="261.94" width="0.66" height="35.72" fill="#f5871f"/>
<rect x="228.51" y="277.42" width="2.0" height="5.00" fill="#f5871f"/>
<rect x="231.50" y="272.45" width="0.66" height="48.40" fill="#f5871f"/>
<rect x="230.83" y="282.42" width="2.0" height="22.63" fill="#f5871f"/>
<rect x="233.82" y="304.31" width="0.66" height="12.74" fill="#f5871f"/>
<rect x="233.15" y="305.06" width="2.0" height="4.47" fill="#f5871f"/>
<rect x="236.14" y="307.29" width="0.66" height="50.39" fill="#f5871f"/>
<rect x="235.47" y="309.53" width="2.0" height="42.53" fill="#f5871f"/>
<rect x="238.46" y="325.44" width="0.66" height="53.55" fill="#f5871f"/>
<rect x="237.79" y="352.06" width="2.0" height="17.01" fill="#f5871f"/>
<rect x="240.78" y="329.28" width="0.66" height="56.40" fill="#ffffff"/>
<rect x="240.11" y="334.71" width="2.0" height="34.35" fill="#ffffff"/>
<rect x="243.10" y="322.38" width="0.66" height="30.48" fill="#ffffff"/>
<rect x="242.44" y="328.51" width="2.0" height="6.19" fill="#ffffff"/>
<rect x="245.43" y="323.91" width="0.66" height="34.58" fill="#f5871f"/>
<rect x="244.76" y="328.51" width="2.0" height="20.35" fill="#f5871f"/>
<rect x="247.75" y="316.30" width="0.66" height="34.96" fill="#ffffff"/>
<rect x="247.08" y="326.20" width="2.0" height="22.66" fill="#ffffff"/>
<rect x="250.07" y="320.85" width="0.66" height="7.66" fill="#ffffff"/>
<rect x="249.40" y="323.91" width="2.0" height="2.30" fill="#ffffff"/>
<rect x="252.39" y="317.81" width="0.66" height="23.93" fill="#f5871f"/>
<rect x="251.72" y="323.91" width="2.0" height="13.14" fill="#f5871f"/>
<rect x="254.71" y="320.09" width="0.66" height="17.74" fill="#ffffff"/>
<rect x="254.04" y="326.20" width="2.0" height="10.84" fill="#ffffff"/>
<rect x="257.03" y="325.44" width="0.66" height="23.43" fill="#f5871f"/>
<rect x="256.36" y="326.20" width="2.0" height="10.06" fill="#f5871f"/>
<rect x="259.35" y="303.57" width="0.66" height="34.26" fill="#ffffff"/>
<rect x="258.68" y="305.06" width="2.0" height="31.21" fill="#ffffff"/>
<rect x="261.67" y="299.87" width="0.66" height="29.41" fill="#f5871f"/>
<rect x="261.00" y="305.06" width="2.0" height="19.62" fill="#f5871f"/>
<rect x="263.99" y="319.33" width="0.66" height="13.05" fill="#f5871f"/>
<rect x="263.32" y="324.67" width="2.0" height="0.80" fill="#f5871f"/>
<rect x="266.31" y="322.38" width="0.66" height="6.91" fill="#f5871f"/>
<rect x="265.64" y="325.44" width="2.0" height="2.30" fill="#f5871f"/>
<rect x="268.63" y="310.28" width="0.66" height="17.46" fill="#ffffff"/>
<rect x="267.96" y="310.28" width="2.0" height="17.46" fill="#ffffff"/>
<rect x="270.95" y="290.36" width="0.66" height="24.43" fill="#ffffff"/>
<rect x="270.28" y="299.87" width="2.0" height="10.40" fill="#ffffff"/>
<rect x="273.27" y="292.54" width="0.66" height="16.24" fill="#f5871f"/>
<rect x="272.60" y="299.87" width="2.0" height="0.80" fill="#f5871f"/>
<rect x="275.59" y="294.00" width="0.66" height="17.77" fill="#f5871f"/>
<rect x="274.92" y="300.61" width="2.0" height="3.70" fill="#f5871f"/>
<rect x="277.91" y="297.67" width="0.66" height="14.86" fill="#ffffff"/>
<rect x="277.24" y="302.09" width="2.0" height="2.22" fill="#ffffff"/>
<rect x="280.23" y="299.87" width="0.66" height="29.41" fill="#f5871f"/>
<rect x="279.56" y="302.09" width="2.0" height="21.05" fill="#f5871f"/>
<rect x="282.55" y="321.61" width="0.66" height="23.29" fill="#f5871f"/>
<rect x="281.88" y="323.14" width="2.0" height="13.90" fill="#f5871f"/>
<rect x="284.87" y="330.06" width="0.66" height="14.85" fill="#f5871f"/>
<rect x="284.20" y="337.05" width="2.0" height="1.56" fill="#f5871f"/>
<rect x="287.19" y="326.20" width="0.66" height="21.07" fill="#ffffff"/>
<rect x="286.52" y="337.05" width="2.0" height="1.56" fill="#ffffff"/>
<rect x="289.52" y="314.03" width="0.66" height="24.57" fill="#ffffff"/>
<rect x="288.85" y="317.06" width="2.0" height="19.99" fill="#ffffff"/>
<rect x="291.84" y="292.54" width="0.66" height="46.85" fill="#f5871f"/>
<rect x="291.17" y="317.06" width="2.0" height="20.77" fill="#f5871f"/>
<rect x="294.16" y="326.97" width="0.66" height="21.10" fill="#ffffff"/>
<rect x="293.49" y="332.38" width="2.0" height="5.45" fill="#ffffff"/>
<rect x="296.48" y="320.85" width="0.66" height="23.26" fill="#ffffff"/>
<rect x="295.81" y="326.97" width="2.0" height="5.40" fill="#ffffff"/>
<rect x="298.80" y="323.91" width="0.66" height="14.70" fill="#f5871f"/>
<rect x="298.13" y="326.97" width="2.0" height="3.08" fill="#f5871f"/>
<rect x="301.12" y="327.74" width="0.66" height="52.91" fill="#f5871f"/>
<rect x="300.45" y="330.06" width="2.0" height="40.65" fill="#f5871f"/>
<rect x="303.44" y="348.07" width="0.66" height="55.54" fill="#ffffff"/>
<rect x="302.77" y="364.16" width="2.0" height="6.55" fill="#ffffff"/>
<rect x="305.76" y="350.46" width="0.66" height="38.60" fill="#f5871f"/>
<rect x="305.09" y="364.16" width="2.0" height="24.06" fill="#f5871f"/>
<rect x="308.08" y="329.28" width="0.66" height="73.47" fill="#ffffff"/>
<rect x="307.41" y="337.05" width="2.0" height="51.17" fill="#ffffff"/>
<rect x="310.40" y="335.49" width="0.66" height="34.40" fill="#f5871f"/>
<rect x="309.73" y="337.05" width="2.0" height="23.86" fill="#f5871f"/>
<rect x="312.72" y="323.91" width="0.66" height="42.70" fill="#ffffff"/>
<rect x="312.05" y="330.83" width="2.0" height="30.08" fill="#ffffff"/>
<rect x="315.04" y="311.03" width="0.66" height="24.46" fill="#ffffff"/>
<rect x="314.37" y="316.30" width="2.0" height="14.53" fill="#ffffff"/>
<rect x="317.36" y="310.28" width="0.66" height="23.65" fill="#f5871f"/>
<rect x="316.69" y="316.30" width="2.0" height="11.44" fill="#f5871f"/>
<rect x="319.68" y="311.03" width="0.66" height="17.48" fill="#ffffff"/>
<rect x="319.01" y="321.61" width="2.0" height="6.13" fill="#ffffff"/>
<rect x="322.00" y="307.29" width="0.66" height="22.00" fill="#f5871f"/>
<rect x="321.33" y="321.61" width="2.0" height="7.67" fill="#f5871f"/>
<rect x="324.32" y="314.79" width="0.66" height="18.36" fill="#ffffff"/>
<rect x="323.65" y="326.20" width="2.0" height="3.08" fill="#ffffff"/>
<rect x="326.64" y="314.79" width="0.66" height="13.72" fill="#ffffff"/>
<rect x="325.97" y="319.33" width="2.0" height="6.87" fill="#ffffff"/>
<rect x="328.96" y="317.81" width="0.66" height="6.86" fill="#f5871f"/>
<rect x="328.29" y="319.33" width="2.0" height="3.05" fill="#f5871f"/>
<rect x="331.28" y="313.28" width="0.66" height="9.86" fill="#ffffff"/>
<rect x="330.61" y="317.81" width="2.0" height="4.56" fill="#ffffff"/>
<rect x="333.60" y="316.30" width="0.66" height="10.67" fill="#ffffff"/>
<rect x="332.93" y="317.06" width="2.0" height="0.80" fill="#ffffff"/>
<rect x="335.93" y="292.54" width="0.66" height="25.27" fill="#ffffff"/>
<rect x="335.25" y="299.87" width="2.0" height="17.18" fill="#ffffff"/>
<rect x="338.25" y="254.34" width="0.66" height="49.23" fill="#ffffff"/>
<rect x="337.58" y="257.10" width="2.0" height="42.78" fill="#ffffff"/>
<rect x="340.57" y="248.87" width="0.66" height="19.36" fill="#ffffff"/>
<rect x="339.90" y="255.72" width="2.0" height="1.38" fill="#ffffff"/>
<rect x="342.89" y="253.66" width="0.66" height="15.98" fill="#ffffff"/>
<rect x="342.22" y="254.34" width="2.0" height="1.38" fill="#ffffff"/>
<rect x="345.21" y="241.42" width="0.66" height="19.83" fill="#ffffff"/>
<rect x="344.54" y="248.87" width="2.0" height="5.47" fill="#ffffff"/>
<rect x="347.53" y="244.80" width="0.66" height="9.55" fill="#f5871f"/>
<rect x="346.86" y="248.87" width="2.0" height="0.80" fill="#f5871f"/>
<rect x="349.85" y="244.12" width="0.66" height="12.98" fill="#f5871f"/>
<rect x="349.18" y="249.55" width="2.0" height="5.48" fill="#f5871f"/>
<rect x="352.17" y="242.77" width="0.66" height="19.17" fill="#ffffff"/>
<rect x="351.50" y="246.83" width="2.0" height="8.20" fill="#ffffff"/>
<rect x="354.49" y="243.45" width="0.66" height="10.90" fill="#f5871f"/>
<rect x="353.82" y="246.83" width="2.0" height="4.77" fill="#f5871f"/>
<rect x="356.81" y="244.80" width="0.66" height="16.45" fill="#f5871f"/>
<rect x="356.14" y="251.60" width="2.0" height="0.80" fill="#f5871f"/>
<rect x="359.13" y="230.74" width="0.66" height="22.23" fill="#ffffff"/>
<rect x="358.46" y="236.73" width="2.0" height="15.56" fill="#ffffff"/>
<rect x="361.45" y="227.44" width="0.66" height="10.63" fill="#ffffff"/>
<rect x="360.78" y="234.06" width="2.0" height="2.67" fill="#ffffff"/>
<rect x="363.77" y="234.06" width="0.66" height="7.36" fill="#f5871f"/>
<rect x="363.10" y="234.06" width="2.0" height="6.69" fill="#f5871f"/>
<rect x="366.09" y="238.06" width="0.66" height="14.22" fill="#f5871f"/>
<rect x="365.42" y="240.75" width="2.0" height="10.85" fill="#f5871f"/>
<rect x="368.41" y="245.47" width="0.66" height="11.62" fill="#ffffff"/>
<rect x="367.74" y="248.87" width="2.0" height="2.73" fill="#ffffff"/>
<rect x="370.73" y="234.06" width="0.66" height="23.73" fill="#ffffff"/>
<rect x="370.06" y="234.72" width="2.0" height="14.15" fill="#ffffff"/>
<rect x="373.05" y="228.76" width="0.66" height="12.67" fill="#ffffff"/>
<rect x="372.38" y="233.39" width="2.0" height="1.33" fill="#ffffff"/>
<rect x="375.37" y="187.83" width="0.66" height="46.23" fill="#ffffff"/>
<rect x="374.70" y="192.81" width="2.0" height="40.59" fill="#ffffff"/>
<rect x="377.69" y="185.97" width="0.66" height="13.11" fill="#f5871f"/>
<rect x="377.02" y="192.81" width="2.0" height="1.88" fill="#f5871f"/>
<rect x="380.01" y="182.89" width="0.66" height="13.04" fill="#ffffff"/>
<rect x="379.34" y="183.51" width="2.0" height="11.17" fill="#ffffff"/>
<rect x="382.34" y="182.89" width="0.66" height="9.91" fill="#f5871f"/>
<rect x="381.67" y="183.51" width="2.0" height="4.32" fill="#f5871f"/>
<rect x="384.66" y="177.38" width="0.66" height="31.87" fill="#f5871f"/>
<rect x="383.99" y="187.83" width="2.0" height="8.11" fill="#f5871f"/>
<rect x="386.98" y="182.28" width="0.66" height="22.50" fill="#ffffff"/>
<rect x="386.31" y="187.83" width="2.0" height="8.11" fill="#ffffff"/>
<rect x="389.30" y="186.59" width="0.66" height="10.60" fill="#f5871f"/>
<rect x="388.63" y="187.83" width="2.0" height="3.73" fill="#f5871f"/>
<rect x="391.62" y="187.21" width="0.66" height="17.57" fill="#ffffff"/>
<rect x="390.95" y="189.69" width="2.0" height="1.87" fill="#ffffff"/>
<rect x="393.94" y="185.36" width="0.66" height="8.70" fill="#f5871f"/>
<rect x="393.27" y="189.69" width="2.0" height="1.87" fill="#f5871f"/>
<rect x="396.26" y="190.31" width="0.66" height="6.88" fill="#f5871f"/>
<rect x="395.59" y="191.56" width="2.0" height="2.50" fill="#f5871f"/>
<rect x="398.58" y="171.92" width="0.66" height="22.14" fill="#ffffff"/>
<rect x="397.91" y="173.13" width="2.0" height="20.93" fill="#ffffff"/>
<rect x="400.90" y="169.50" width="0.66" height="31.47" fill="#f5871f"/>
<rect x="400.23" y="173.13" width="2.0" height="5.47" fill="#f5871f"/>
<rect x="403.22" y="168.30" width="0.66" height="18.91" fill="#ffffff"/>
<rect x="402.55" y="170.71" width="2.0" height="7.89" fill="#ffffff"/>
<rect x="405.54" y="147.60" width="0.66" height="27.96" fill="#ffffff"/>
<rect x="404.87" y="154.03" width="2.0" height="16.68" fill="#ffffff"/>
<rect x="407.86" y="140.65" width="0.66" height="16.33" fill="#ffffff"/>
<rect x="407.19" y="142.38" width="2.0" height="11.65" fill="#ffffff"/>
<rect x="410.18" y="141.80" width="0.66" height="29.51" fill="#f5871f"/>
<rect x="409.51" y="142.38" width="2.0" height="25.92" fill="#f5871f"/>
<rect x="412.50" y="155.21" width="0.66" height="15.50" fill="#ffffff"/>
<rect x="411.83" y="165.30" width="2.0" height="3.00" fill="#ffffff"/>
<rect x="414.82" y="156.39" width="0.66" height="16.13" fill="#ffffff"/>
<rect x="414.15" y="158.16" width="2.0" height="7.14" fill="#ffffff"/>
<rect x="417.14" y="149.93" width="0.66" height="10.01" fill="#ffffff"/>
<rect x="416.47" y="155.80" width="2.0" height="2.36" fill="#ffffff"/>
<rect x="419.46" y="148.18" width="0.66" height="18.92" fill="#f5871f"/>
<rect x="418.79" y="155.80" width="2.0" height="2.36" fill="#f5871f"/>
<rect x="421.78" y="156.39" width="0.66" height="14.92" fill="#f5871f"/>
<rect x="421.11" y="158.16" width="2.0" height="7.14" fill="#f5871f"/>
<rect x="424.10" y="158.75" width="0.66" height="21.68" fill="#f5871f"/>
<rect x="423.43" y="165.30" width="2.0" height="13.30" fill="#f5871f"/>
<rect x="426.42" y="174.34" width="0.66" height="16.59" fill="#f5871f"/>
<rect x="425.75" y="178.60" width="2.0" height="9.85" fill="#f5871f"/>
<rect x="428.75" y="182.89" width="0.66" height="11.16" fill="#ffffff"/>
<rect x="428.07" y="184.74" width="2.0" height="3.71" fill="#ffffff"/>
<rect x="431.07" y="176.77" width="0.66" height="13.54" fill="#ffffff"/>
<rect x="430.40" y="178.60" width="2.0" height="6.14" fill="#ffffff"/>
<rect x="433.39" y="176.77" width="0.66" height="14.16" fill="#ffffff"/>
<rect x="432.72" y="177.38" width="2.0" height="1.22" fill="#ffffff"/>
<rect x="435.71" y="171.31" width="0.66" height="11.58" fill="#f5871f"/>
<rect x="435.04" y="177.38" width="2.0" height="2.44" fill="#f5871f"/>
<rect x="438.03" y="176.16" width="0.66" height="11.05" fill="#f5871f"/>
<rect x="437.36" y="179.82" width="2.0" height="4.30" fill="#f5871f"/>
<rect x="440.35" y="176.77" width="0.66" height="34.40" fill="#f5871f"/>
<rect x="439.68" y="184.12" width="2.0" height="20.02" fill="#f5871f"/>
<rect x="442.67" y="180.44" width="0.66" height="26.25" fill="#ffffff"/>
<rect x="442.00" y="186.59" width="2.0" height="17.55" fill="#ffffff"/>
<rect x="444.99" y="176.77" width="0.66" height="12.92" fill="#ffffff"/>
<rect x="444.32" y="178.60" width="2.0" height="7.99" fill="#ffffff"/>
<rect x="447.31" y="173.13" width="0.66" height="9.15" fill="#ffffff"/>
<rect x="446.64" y="177.99" width="2.0" height="0.80" fill="#ffffff"/>
<rect x="449.63" y="149.35" width="0.66" height="31.09" fill="#ffffff"/>
<rect x="448.96" y="150.52" width="2.0" height="27.48" fill="#ffffff"/>
<rect x="451.95" y="149.93" width="0.66" height="12.39" fill="#ffffff"/>
<rect x="451.28" y="150.22" width="2.0" height="0.80" fill="#ffffff"/>
<rect x="454.27" y="149.93" width="0.66" height="13.58" fill="#f5871f"/>
<rect x="453.60" y="150.52" width="2.0" height="10.02" fill="#f5871f"/>
<rect x="456.59" y="159.35" width="0.66" height="18.64" fill="#f5871f"/>
<rect x="455.92" y="160.53" width="2.0" height="17.46" fill="#f5871f"/>
<rect x="458.91" y="174.95" width="0.66" height="21.62" fill="#ffffff"/>
<rect x="458.24" y="176.16" width="2.0" height="1.83" fill="#ffffff"/>
<rect x="461.23" y="174.95" width="0.66" height="11.64" fill="#f5871f"/>
<rect x="460.56" y="176.16" width="2.0" height="3.66" fill="#f5871f"/>
<rect x="463.55" y="175.56" width="0.66" height="10.42" fill="#ffffff"/>
<rect x="462.88" y="178.60" width="2.0" height="1.22" fill="#ffffff"/>
<rect x="465.87" y="158.75" width="0.66" height="24.14" fill="#ffffff"/>
<rect x="465.20" y="171.31" width="2.0" height="7.29" fill="#ffffff"/>
<rect x="468.19" y="165.30" width="0.66" height="26.88" fill="#f5871f"/>
<rect x="467.52" y="171.31" width="2.0" height="13.43" fill="#f5871f"/>
<rect x="470.51" y="178.60" width="0.66" height="12.33" fill="#ffffff"/>
<rect x="469.84" y="182.89" width="2.0" height="1.85" fill="#ffffff"/>
<rect x="472.83" y="181.05" width="0.66" height="8.02" fill="#f5871f"/>
<rect x="472.16" y="182.89" width="2.0" height="1.23" fill="#f5871f"/>
<rect x="475.16" y="173.13" width="0.66" height="25.95" fill="#f5871f"/>
<rect x="474.49" y="184.12" width="2.0" height="8.68" fill="#f5871f"/>
<rect x="477.48" y="188.45" width="0.66" height="20.16" fill="#f5871f"/>
<rect x="476.81" y="192.81" width="2.0" height="7.54" fill="#f5871f"/>
<rect x="479.80" y="192.18" width="0.66" height="33.28" fill="#f5871f"/>
<rect x="479.13" y="200.34" width="2.0" height="6.99" fill="#f5871f"/>
<rect x="482.12" y="175.56" width="0.66" height="40.78" fill="#ffffff"/>
<rect x="481.45" y="180.44" width="2.0" height="26.89" fill="#ffffff"/>
<rect x="484.44" y="174.34" width="0.66" height="10.40" fill="#ffffff"/>
<rect x="483.77" y="175.56" width="2.0" height="4.88" fill="#ffffff"/>
<rect x="486.76" y="163.51" width="0.66" height="13.87" fill="#ffffff"/>
<rect x="486.09" y="168.30" width="2.0" height="7.25" fill="#ffffff"/>
<rect x="489.08" y="162.32" width="0.66" height="10.20" fill="#f5871f"/>
<rect x="488.41" y="168.30" width="2.0" height="1.81" fill="#f5871f"/>
<rect x="491.40" y="165.90" width="0.66" height="7.83" fill="#ffffff"/>
<rect x="490.73" y="169.81" width="2.0" height="0.80" fill="#ffffff"/>
<rect x="493.72" y="166.50" width="0.66" height="4.81" fill="#ffffff"/>
<rect x="493.05" y="168.30" width="2.0" height="1.81" fill="#ffffff"/>
<rect x="496.04" y="161.13" width="0.66" height="7.77" fill="#ffffff"/>
<rect x="495.37" y="161.72" width="2.0" height="6.58" fill="#ffffff"/>
<rect x="498.36" y="159.35" width="0.66" height="12.57" fill="#f5871f"/>
<rect x="497.69" y="161.72" width="2.0" height="7.78" fill="#f5871f"/>
<rect x="500.68" y="167.10" width="0.66" height="14.56" fill="#f5871f"/>
<rect x="500.01" y="169.50" width="2.0" height="8.49" fill="#f5871f"/>
<rect x="503.00" y="154.03" width="0.66" height="27.63" fill="#ffffff"/>
<rect x="502.33" y="159.35" width="2.0" height="18.64" fill="#ffffff"/>
<rect x="505.32" y="149.35" width="0.66" height="11.78" fill="#ffffff"/>
<rect x="504.65" y="154.62" width="2.0" height="4.73" fill="#ffffff"/>
<rect x="507.64" y="153.45" width="0.66" height="15.46" fill="#f5871f"/>
<rect x="506.97" y="154.62" width="2.0" height="9.49" fill="#f5871f"/>
<rect x="509.96" y="161.72" width="0.66" height="3.58" fill="#ffffff"/>
<rect x="509.29" y="162.91" width="2.0" height="1.19" fill="#ffffff"/>
<rect x="512.28" y="154.03" width="0.66" height="11.27" fill="#ffffff"/>
<rect x="511.61" y="156.98" width="2.0" height="5.93" fill="#ffffff"/>
<rect x="514.60" y="154.03" width="0.66" height="13.67" fill="#f5871f"/>
<rect x="513.93" y="156.98" width="2.0" height="5.34" fill="#f5871f"/>
<rect x="516.92" y="156.98" width="0.66" height="10.72" fill="#ffffff"/>
<rect x="516.25" y="158.75" width="2.0" height="3.56" fill="#ffffff"/>
<rect x="519.24" y="140.65" width="0.66" height="21.67" fill="#ffffff"/>
<rect x="518.57" y="145.27" width="2.0" height="13.48" fill="#ffffff"/>
<rect x="521.56" y="113.03" width="0.66" height="36.32" fill="#ffffff"/>
<rect x="520.89" y="118.02" width="2.0" height="27.26" fill="#ffffff"/>
<rect x="523.89" y="102.09" width="0.66" height="20.39" fill="#ffffff"/>
<rect x="523.22" y="109.73" width="2.0" height="8.29" fill="#ffffff"/>
<rect x="526.21" y="105.90" width="0.66" height="7.13" fill="#f5871f"/>
<rect x="525.54" y="109.73" width="2.0" height="0.80" fill="#f5871f"/>
<rect x="528.53" y="98.84" width="0.66" height="12.54" fill="#ffffff"/>
<rect x="527.86" y="101.01" width="2.0" height="9.27" fill="#ffffff"/>
<rect x="530.85" y="79.17" width="0.66" height="22.91" fill="#ffffff"/>
<rect x="530.18" y="97.23" width="2.0" height="3.78" fill="#ffffff"/>
<rect x="533.17" y="96.15" width="0.66" height="23.54" fill="#f5871f"/>
<rect x="532.50" y="97.23" width="2.0" height="10.86" fill="#f5871f"/>
<rect x="535.49" y="95.61" width="0.66" height="16.87" fill="#ffffff"/>
<rect x="534.82" y="103.72" width="2.0" height="4.37" fill="#ffffff"/>
<rect x="537.81" y="91.33" width="0.66" height="18.95" fill="#ffffff"/>
<rect x="537.14" y="100.46" width="2.0" height="3.25" fill="#ffffff"/>
<rect x="540.13" y="91.86" width="0.66" height="21.72" fill="#f5871f"/>
<rect x="539.46" y="100.46" width="2.0" height="7.07" fill="#f5871f"/>
<rect x="542.45" y="104.26" width="0.66" height="6.56" fill="#f5871f"/>
<rect x="541.78" y="107.54" width="2.0" height="0.80" fill="#f5871f"/>
<rect x="544.77" y="102.63" width="0.66" height="12.61" fill="#f5871f"/>
<rect x="544.10" y="108.08" width="2.0" height="2.74" fill="#f5871f"/>
<rect x="547.09" y="97.76" width="0.66" height="19.70" fill="#ffffff"/>
<rect x="546.42" y="110.28" width="2.0" height="0.80" fill="#ffffff"/>
<rect x="549.41" y="95.08" width="0.66" height="22.38" fill="#ffffff"/>
<rect x="548.74" y="96.15" width="2.0" height="14.13" fill="#ffffff"/>
<rect x="551.73" y="95.61" width="0.66" height="15.22" fill="#f5871f"/>
<rect x="551.06" y="96.15" width="2.0" height="6.48" fill="#f5871f"/>
<rect x="554.05" y="98.84" width="0.66" height="13.09" fill="#f5871f"/>
<rect x="553.38" y="102.63" width="2.0" height="2.72" fill="#f5871f"/>
<rect x="556.37" y="104.26" width="0.66" height="21.02" fill="#f5871f"/>
<rect x="555.70" y="105.35" width="2.0" height="3.83" fill="#f5871f"/>
<rect x="558.69" y="105.35" width="0.66" height="6.58" fill="#ffffff"/>
<rect x="558.02" y="107.54" width="2.0" height="1.64" fill="#ffffff"/>
<rect x="561.01" y="97.23" width="0.66" height="10.86" fill="#ffffff"/>
<rect x="560.34" y="99.38" width="2.0" height="8.15" fill="#ffffff"/>
<rect x="563.33" y="97.23" width="0.66" height="13.05" fill="#f5871f"/>
<rect x="562.66" y="99.38" width="2.0" height="7.61" fill="#f5871f"/>
<rect x="565.65" y="99.92" width="0.66" height="13.11" fill="#f5871f"/>
<rect x="564.98" y="106.99" width="2.0" height="0.80" fill="#f5871f"/>
<rect x="567.98" y="102.63" width="0.66" height="16.50" fill="#f5871f"/>
<rect x="567.31" y="107.54" width="2.0" height="0.80" fill="#f5871f"/>
<rect x="570.30" y="102.09" width="0.66" height="18.71" fill="#f5871f"/>
<rect x="569.63" y="108.08" width="2.0" height="11.60" fill="#f5871f"/>
<rect x="572.62" y="118.02" width="0.66" height="18.62" fill="#f5871f"/>
<rect x="571.95" y="119.69" width="2.0" height="13.52" fill="#f5871f"/>
<rect x="574.94" y="129.23" width="0.66" height="11.42" fill="#f5871f"/>
<rect x="574.27" y="133.21" width="2.0" height="4.57" fill="#f5871f"/>
<rect x="577.26" y="124.72" width="0.66" height="16.50" fill="#ffffff"/>
<rect x="576.59" y="128.10" width="2.0" height="9.67" fill="#ffffff"/>
<rect x="579.58" y="119.69" width="0.66" height="8.98" fill="#ffffff"/>
<rect x="578.91" y="123.60" width="2.0" height="4.50" fill="#ffffff"/>
<rect x="581.90" y="119.69" width="0.66" height="17.52" fill="#f5871f"/>
<rect x="581.23" y="123.60" width="2.0" height="5.07" fill="#f5871f"/>
<rect x="584.22" y="119.69" width="0.66" height="13.52" fill="#ffffff"/>
<rect x="583.55" y="123.60" width="2.0" height="5.07" fill="#ffffff"/>
<rect x="586.54" y="109.18" width="0.66" height="18.92" fill="#ffffff"/>
<rect x="585.87" y="109.73" width="2.0" height="13.87" fill="#ffffff"/>
<rect x="588.86" y="108.63" width="0.66" height="9.94" fill="#f5871f"/>
<rect x="588.19" y="109.73" width="2.0" height="4.41" fill="#f5871f"/>
<rect x="591.18" y="107.54" width="0.66" height="8.81" fill="#f5871f"/>
<rect x="590.51" y="114.14" width="2.0" height="1.11" fill="#f5871f"/>
<rect x="593.50" y="99.92" width="0.66" height="15.87" fill="#ffffff"/>
<rect x="592.83" y="99.92" width="2.0" height="15.32" fill="#ffffff"/>
<rect x="595.82" y="83.90" width="0.66" height="23.09" fill="#f5871f"/>
<rect x="595.15" y="99.92" width="2.0" height="3.25" fill="#f5871f"/>
<rect x="598.14" y="94.54" width="0.66" height="11.36" fill="#ffffff"/>
<rect x="597.47" y="95.61" width="2.0" height="7.56" fill="#ffffff"/>
<rect x="600.46" y="76.56" width="0.66" height="25.53" fill="#ffffff"/>
<rect x="599.79" y="78.65" width="2.0" height="16.96" fill="#ffffff"/>
<rect x="602.78" y="72.40" width="0.66" height="38.97" fill="#f5871f"/>
<rect x="602.11" y="78.65" width="2.0" height="26.70" fill="#f5871f"/>
<rect x="605.10" y="100.46" width="0.66" height="13.12" fill="#f5871f"/>
<rect x="604.43" y="105.35" width="2.0" height="5.48" fill="#f5871f"/>
<rect x="607.42" y="107.54" width="0.66" height="4.39" fill="#ffffff"/>
<rect x="606.75" y="110.28" width="2.0" height="0.80" fill="#ffffff"/>
<rect x="609.74" y="103.72" width="0.66" height="7.66" fill="#ffffff"/>
<rect x="609.07" y="110.00" width="2.0" height="0.80" fill="#ffffff"/>
<rect x="612.06" y="109.73" width="0.66" height="15.56" fill="#f5871f"/>
<rect x="611.39" y="110.28" width="2.0" height="6.63" fill="#f5871f"/>
<rect x="614.38" y="114.14" width="0.66" height="22.50" fill="#f5871f"/>
<rect x="613.72" y="116.90" width="2.0" height="18.58" fill="#f5871f"/>
<rect x="616.71" y="125.85" width="0.66" height="12.50" fill="#ffffff"/>
<rect x="616.04" y="127.54" width="2.0" height="7.95" fill="#ffffff"/>
<rect x="619.03" y="124.72" width="0.66" height="15.93" fill="#f5871f"/>
<rect x="618.36" y="127.54" width="2.0" height="10.24" fill="#f5871f"/>
<rect x="621.35" y="110.28" width="0.66" height="32.10" fill="#ffffff"/>
<rect x="620.68" y="113.03" width="2.0" height="24.75" fill="#ffffff"/>
<rect x="623.67" y="112.48" width="0.66" height="13.93" fill="#f5871f"/>
<rect x="623.00" y="113.03" width="2.0" height="8.33" fill="#f5871f"/>
<rect x="625.99" y="120.24" width="0.66" height="27.94" fill="#f5871f"/>
<rect x="625.32" y="121.36" width="2.0" height="10.71" fill="#f5871f"/>
<rect x="628.31" y="130.93" width="0.66" height="25.46" fill="#f5871f"/>
<rect x="627.64" y="132.07" width="2.0" height="19.62" fill="#f5871f"/>
<rect x="630.63" y="138.35" width="0.66" height="21.59" fill="#ffffff"/>
<rect x="629.96" y="141.80" width="2.0" height="9.88" fill="#ffffff"/>
<rect x="632.95" y="137.20" width="0.66" height="12.73" fill="#f5871f"/>
<rect x="632.28" y="141.80" width="2.0" height="2.89" fill="#f5871f"/>
<rect x="635.27" y="132.07" width="0.66" height="14.95" fill="#ffffff"/>
<rect x="634.60" y="137.20" width="2.0" height="7.49" fill="#ffffff"/>
<rect x="637.59" y="137.20" width="0.66" height="29.90" fill="#f5871f"/>
<rect x="636.92" y="137.20" width="2.0" height="24.52" fill="#f5871f"/>
<rect x="639.91" y="158.75" width="0.66" height="8.95" fill="#ffffff"/>
<rect x="639.24" y="159.35" width="2.0" height="2.38" fill="#ffffff"/>
<rect x="642.23" y="155.21" width="0.66" height="8.30" fill="#f5871f"/>
<rect x="641.56" y="159.35" width="2.0" height="3.57" fill="#f5871f"/>
<rect x="644.55" y="152.86" width="0.66" height="15.44" fill="#ffffff"/>
<rect x="643.88" y="156.98" width="2.0" height="5.93" fill="#ffffff"/>
<rect x="646.87" y="141.80" width="0.66" height="19.92" fill="#ffffff"/>
<rect x="646.20" y="145.27" width="2.0" height="11.71" fill="#ffffff"/>
<rect x="649.19" y="137.20" width="0.66" height="12.14" fill="#ffffff"/>
<rect x="648.52" y="142.38" width="2.0" height="2.89" fill="#ffffff"/>
<rect x="651.51" y="139.50" width="0.66" height="16.89" fill="#f5871f"/>
<rect x="650.84" y="142.38" width="2.0" height="5.80" fill="#f5871f"/>
<rect x="653.83" y="132.64" width="0.66" height="18.46" fill="#f5871f"/>
<rect x="653.16" y="148.18" width="2.0" height="0.80" fill="#f5871f"/>
<rect x="656.15" y="144.69" width="0.66" height="8.16" fill="#f5871f"/>
<rect x="655.48" y="148.18" width="2.0" height="2.92" fill="#f5871f"/>
<rect x="658.47" y="142.96" width="0.66" height="8.73" fill="#ffffff"/>
<rect x="657.80" y="145.85" width="2.0" height="5.25" fill="#ffffff"/>
<rect x="660.79" y="135.49" width="0.66" height="13.28" fill="#ffffff"/>
<rect x="660.12" y="140.07" width="2.0" height="5.78" fill="#ffffff"/>
<rect x="663.12" y="133.21" width="0.66" height="14.39" fill="#f5871f"/>
<rect x="662.45" y="140.07" width="2.0" height="3.46" fill="#f5871f"/>
<rect x="665.44" y="127.54" width="0.66" height="19.48" fill="#ffffff"/>
<rect x="664.77" y="129.80" width="2.0" height="13.74" fill="#ffffff"/>
<rect x="667.76" y="120.80" width="0.66" height="11.84" fill="#ffffff"/>
<rect x="667.09" y="120.80" width="2.0" height="9.00" fill="#ffffff"/>
<rect x="670.08" y="114.14" width="0.66" height="11.15" fill="#ffffff"/>
<rect x="669.41" y="118.02" width="2.0" height="2.79" fill="#ffffff"/>
<rect x="672.40" y="116.35" width="0.66" height="6.69" fill="#f5871f"/>
<rect x="671.73" y="118.02" width="2.0" height="0.80" fill="#f5871f"/>
<rect x="674.72" y="116.90" width="0.66" height="6.13" fill="#f5871f"/>
<rect x="674.05" y="118.57" width="2.0" height="3.35" fill="#f5871f"/>
<rect x="677.04" y="113.58" width="0.66" height="13.39" fill="#ffffff"/>
<rect x="676.37" y="121.64" width="2.0" height="0.80" fill="#ffffff"/>
<rect x="679.36" y="112.48" width="0.66" height="12.81" fill="#ffffff"/>
<rect x="678.69" y="113.58" width="2.0" height="8.34" fill="#ffffff"/>
<rect x="681.68" y="110.83" width="0.66" height="14.46" fill="#f5871f"/>
<rect x="681.01" y="113.58" width="2.0" height="2.21" fill="#f5871f"/>
<rect x="684.00" y="107.54" width="0.66" height="9.92" fill="#ffffff"/>
<rect x="683.33" y="111.93" width="2.0" height="3.87" fill="#ffffff"/>
<rect x="686.32" y="109.73" width="0.66" height="13.31" fill="#f5871f"/>
<rect x="685.65" y="111.93" width="2.0" height="8.32" fill="#f5871f"/>
<rect x="688.64" y="117.46" width="0.66" height="3.90" fill="#ffffff"/>
<rect x="687.97" y="119.69" width="2.0" height="0.80" fill="#ffffff"/>
<rect x="690.96" y="119.13" width="0.66" height="4.47" fill="#f5871f"/>
<rect x="690.29" y="119.69" width="2.0" height="2.79" fill="#f5871f"/>
<rect x="693.28" y="121.36" width="0.66" height="20.44" fill="#f5871f"/>
<rect x="692.61" y="122.48" width="2.0" height="14.15" fill="#f5871f"/>
<rect x="695.60" y="133.21" width="0.66" height="10.91" fill="#f5871f"/>
<rect x="694.93" y="136.63" width="2.0" height="4.02" fill="#f5871f"/>
<rect x="697.92" y="129.23" width="0.66" height="17.20" fill="#ffffff"/>
<rect x="697.25" y="133.21" width="2.0" height="7.44" fill="#ffffff"/>
<rect x="700.24" y="132.07" width="0.66" height="28.46" fill="#f5871f"/>
<rect x="699.57" y="133.21" width="2.0" height="24.96" fill="#f5871f"/>
<rect x="702.56" y="150.52" width="0.66" height="10.02" fill="#ffffff"/>
<rect x="701.89" y="154.62" width="2.0" height="3.54" fill="#ffffff"/>
<rect x="704.88" y="153.45" width="0.66" height="4.13" fill="#f5871f"/>
<rect x="704.21" y="154.62" width="2.0" height="0.80" fill="#f5871f"/>
<rect x="707.20" y="138.35" width="0.66" height="18.63" fill="#ffffff"/>
<rect x="706.53" y="140.07" width="2.0" height="14.55" fill="#ffffff"/>
<rect x="709.53" y="126.97" width="0.66" height="15.98" fill="#ffffff"/>
<rect x="708.86" y="127.54" width="2.0" height="12.54" fill="#ffffff"/>
<rect x="711.85" y="124.72" width="0.66" height="11.91" fill="#f5871f"/>
<rect x="711.18" y="127.54" width="2.0" height="1.70" fill="#f5871f"/>
<rect x="714.17" y="103.18" width="0.66" height="26.62" fill="#ffffff"/>
<rect x="713.50" y="103.72" width="2.0" height="25.51" fill="#ffffff"/>
<rect x="716.49" y="90.80" width="0.66" height="14.56" fill="#ffffff"/>
<rect x="715.82" y="92.93" width="2.0" height="10.79" fill="#ffffff"/>
<rect x="718.81" y="75.52" width="0.66" height="24.94" fill="#ffffff"/>
<rect x="718.14" y="84.43" width="2.0" height="8.50" fill="#ffffff"/>
<rect x="721.13" y="80.75" width="0.66" height="7.39" fill="#ffffff"/>
<rect x="720.46" y="83.38" width="2.0" height="1.05" fill="#ffffff"/>
<rect x="723.45" y="66.22" width="0.66" height="18.74" fill="#ffffff"/>
<rect x="722.78" y="77.61" width="2.0" height="5.77" fill="#ffffff"/>
<rect x="725.77" y="63.66" width="0.66" height="16.04" fill="#ffffff"/>
<rect x="725.10" y="71.37" width="2.0" height="6.24" fill="#ffffff"/>
<rect x="728.09" y="69.30" width="0.66" height="23.63" fill="#f5871f"/>
<rect x="727.42" y="71.37" width="2.0" height="17.83" fill="#f5871f"/>
<rect x="730.41" y="73.96" width="0.66" height="16.30" fill="#ffffff"/>
<rect x="729.74" y="78.65" width="2.0" height="10.55" fill="#ffffff"/>
<rect x="732.73" y="76.56" width="0.66" height="21.20" fill="#f5871f"/>
<rect x="732.06" y="78.65" width="2.0" height="8.42" fill="#f5871f"/>
<rect x="735.05" y="82.85" width="0.66" height="118.12" fill="#f5871f"/>
<rect x="734.38" y="87.08" width="2.0" height="48.98" fill="#f5871f"/>
<rect x="737.37" y="132.64" width="0.66" height="21.98" fill="#f5871f"/>
<rect x="736.70" y="136.06" width="2.0" height="12.70" fill="#f5871f"/>
<rect x="739.69" y="119.13" width="0.66" height="35.49" fill="#ffffff"/>
<rect x="739.02" y="123.60" width="2.0" height="25.16" fill="#ffffff"/>
<rect x="742.01" y="118.02" width="0.66" height="12.35" fill="#ffffff"/>
<rect x="741.34" y="122.48" width="2.0" height="1.12" fill="#ffffff"/>
<rect x="744.33" y="120.80" width="0.66" height="31.47" fill="#f5871f"/>
<rect x="743.66" y="122.48" width="2.0" height="11.87" fill="#f5871f"/>
<rect x="746.65" y="131.50" width="0.66" height="19.60" fill="#f5871f"/>
<rect x="745.98" y="134.35" width="2.0" height="13.25" fill="#f5871f"/>
<rect x="748.97" y="140.65" width="0.66" height="27.05" fill="#f5871f"/>
<rect x="748.30" y="147.60" width="2.0" height="15.32" fill="#f5871f"/>
<rect x="751.29" y="156.39" width="0.66" height="35.17" fill="#f5871f"/>
<rect x="750.62" y="162.91" width="2.0" height="10.82" fill="#f5871f"/>
<rect x="753.62" y="167.10" width="0.66" height="7.24" fill="#ffffff"/>
<rect x="752.95" y="168.90" width="2.0" height="4.83" fill="#ffffff"/>
<rect x="755.94" y="155.21" width="0.66" height="20.34" fill="#ffffff"/>
<rect x="755.27" y="160.53" width="2.0" height="8.37" fill="#ffffff"/>
<rect x="758.26" y="142.38" width="0.66" height="25.32" fill="#ffffff"/>
<rect x="757.59" y="149.35" width="2.0" height="11.19" fill="#ffffff"/>
<rect x="760.58" y="129.23" width="0.66" height="37.87" fill="#f5871f"/>
<rect x="759.91" y="149.35" width="2.0" height="12.97" fill="#f5871f"/>
<rect x="762.90" y="156.98" width="0.66" height="14.94" fill="#f5871f"/>
<rect x="762.23" y="162.32" width="2.0" height="4.18" fill="#f5871f"/>
<rect x="765.22" y="144.69" width="0.66" height="22.41" fill="#ffffff"/>
<rect x="764.55" y="151.69" width="2.0" height="14.81" fill="#ffffff"/>
<rect x="767.54" y="140.07" width="0.66" height="13.96" fill="#ffffff"/>
<rect x="766.87" y="146.43" width="2.0" height="5.25" fill="#ffffff"/>
<rect x="769.86" y="140.65" width="0.66" height="7.53" fill="#ffffff"/>
<rect x="769.19" y="142.96" width="2.0" height="3.48" fill="#ffffff"/>
<rect x="772.18" y="120.80" width="0.66" height="23.89" fill="#ffffff"/>
<rect x="771.51" y="126.41" width="2.0" height="16.55" fill="#ffffff"/>
<rect x="774.50" y="115.80" width="0.66" height="14.57" fill="#f5871f"/>
<rect x="773.83" y="126.41" width="2.0" height="2.26" fill="#f5871f"/>
<rect x="776.82" y="117.46" width="0.66" height="22.04" fill="#f5871f"/>
<rect x="776.15" y="128.67" width="2.0" height="6.82" fill="#f5871f"/>
<rect x="779.14" y="131.50" width="0.66" height="25.48" fill="#f5871f"/>
<rect x="778.47" y="135.49" width="2.0" height="16.78" fill="#f5871f"/>
<rect x="781.46" y="142.96" width="0.66" height="31.38" fill="#f5871f"/>
<rect x="780.79" y="152.27" width="2.0" height="10.05" fill="#f5871f"/>
<rect x="783.78" y="145.27" width="0.66" height="17.04" fill="#ffffff"/>
<rect x="783.11" y="154.62" width="2.0" height="7.70" fill="#ffffff"/>
<rect x="786.10" y="148.76" width="0.66" height="7.04" fill="#ffffff"/>
<rect x="785.43" y="151.69" width="2.0" height="2.94" fill="#ffffff"/>
<rect x="788.42" y="144.69" width="0.66" height="10.52" fill="#ffffff"/>
<rect x="787.75" y="149.35" width="2.0" height="2.34" fill="#ffffff"/>
<rect x="790.74" y="147.60" width="0.66" height="32.84" fill="#f5871f"/>
<rect x="790.07" y="149.35" width="2.0" height="23.18" fill="#f5871f"/>
<rect x="793.06" y="168.30" width="0.66" height="52.58" fill="#f5871f"/>
<rect x="792.39" y="172.52" width="2.0" height="31.62" fill="#f5871f"/>
<rect x="795.38" y="185.36" width="0.66" height="35.53" fill="#ffffff"/>
<rect x="794.71" y="189.07" width="2.0" height="15.07" fill="#ffffff"/>
<rect x="797.70" y="187.21" width="0.66" height="24.60" fill="#f5871f"/>
<rect x="797.03" y="189.07" width="2.0" height="16.35" fill="#f5871f"/>
<rect x="800.02" y="187.83" width="0.66" height="30.45" fill="#ffffff"/>
<rect x="799.36" y="192.81" width="2.0" height="12.61" fill="#ffffff"/>
<rect x="802.35" y="192.18" width="0.66" height="12.60" fill="#f5871f"/>
<rect x="801.68" y="192.81" width="2.0" height="6.27" fill="#f5871f"/>
<rect x="804.67" y="179.21" width="0.66" height="25.57" fill="#ffffff"/>
<rect x="804.00" y="184.12" width="2.0" height="14.96" fill="#ffffff"/>
<rect x="806.99" y="172.52" width="0.66" height="14.07" fill="#ffffff"/>
<rect x="806.32" y="176.16" width="2.0" height="7.96" fill="#ffffff"/>
<rect x="809.31" y="167.10" width="0.66" height="12.11" fill="#f5871f"/>
<rect x="808.64" y="176.10" width="2.0" height="1.49" fill="#f5871f"/>
<line x1="7.5" y1="177.9" x2="926" y2="177.9" stroke="#e08a14" stroke-width="1.0" stroke-dasharray="1.05 3.04"/>
<circle cx="809.5" cy="425" r="6.7" fill="#141414" stroke="#b44fc2" stroke-width="1.1"/>
<path d="M811.8 420.6 L806.6 425.6 L809.3 425.6 L807.4 429.4 L812.6 424.3 L809.9 424.3 Z" fill="#c653d6"/>
</g>
<line x1="964.8" y1="18.7" x2="964.8" y2="451.7" stroke="#804800" stroke-width="1.3"/>
<line x1="7.0" y1="433.8" x2="1016.9" y2="433.8" stroke="#804800" stroke-width="1.2"/>
<g fill="#dcdcdc"><path d="M7.9 467.3 H16.5 V477.6 H12.1 V471.8 H7.9 Z"/><circle cx="19.3" cy="469.4" r="2.25"/><path d="M22.9 467.3 H28.2 L24.8 477.6 H20.0 Z"/></g>
</svg>
<div class="t" style="left:6.6px;top:5.3px;font-size:8.6px;color:#ececec;-webkit-text-stroke:0.2px #ececec;transform:scaleX(0.943);transform-origin:0 0;">BitXJournal created with TradingView.com, Nov 11, 2025 04:56 UTC</div>
<div class="t" style="left:12.1px;top:23.2px;font-size:9.2px;transform:scaleX(0.891);transform-origin:0 0;color:#b8bac0;">Bitcoin / TetherUS · 1D · Binance</div>
<div class="t" style="left:137px;top:23.2px;font-size:9.2px;transform:scaleX(0.886);transform-origin:0 0;color:#b8bac0;">O<span style="color:#f5871f">106,011.13</span></div>
<div class="t" style="left:187.5px;top:23.2px;font-size:9.2px;transform:scaleX(0.886);transform-origin:0 0;color:#b8bac0;">H<span style="color:#f5871f">107,500.00</span></div>
<div class="t" style="left:238px;top:23.2px;font-size:9.2px;transform:scaleX(0.886);transform-origin:0 0;color:#b8bac0;">L<span style="color:#f5871f">105,500.00</span></div>
<div class="t" style="left:286.5px;top:23.2px;font-size:9.2px;transform:scaleX(0.886);transform-origin:0 0;color:#b8bac0;">C<span style="color:#f5871f">105,767.20</span></div>
<div class="t" style="left:337px;top:23.2px;font-size:9.2px;color:#f5871f;transform:scaleX(0.837);transform-origin:0 0;">−243.93 (−0.23%)</div>
<div class="t" style="left:403px;top:23.2px;font-size:9.2px;transform:scaleX(0.886);transform-origin:0 0;color:#b8bac0;">Vol<span style="color:#f5871f">5.55 K</span></div>
<div style="position:absolute;left:966.8px;top:20.5px;width:48.2px;height:18.4px;border:1px solid #363636;border-radius:3px;background:#101010;box-sizing:border-box;"></div>
<div class="t" style="left:972.8px;top:24.6px;font-size:8.8px;color:#dedede;-webkit-text-stroke:0.3px #dedede;transform:scaleX(0.81);transform-origin:0 0;">USDT</div>
<div class="t" style="left:970.60px;top:69.90px;font-size:9.3px;color:#cfd1d6;font-weight:normal;transform:scaleX(0.86);transform-origin:0 50%;">124,000.00</div><div class="t" style="left:970.60px;top:91.05px;font-size:9.3px;color:#cfd1d6;font-weight:normal;transform:scaleX(0.86);transform-origin:0 50%;">120,000.00</div><div class="t" style="left:970.60px;top:118.50px;font-size:9.3px;color:#cfd1d6;font-weight:normal;transform:scaleX(0.86);transform-origin:0 50%;">115,000.00</div><div class="t" style="left:970.60px;top:147.17px;font-size:9.3px;color:#cfd1d6;font-weight:normal;transform:scaleX(0.86);transform-origin:0 50%;">110,000.00</div><div class="t" style="left:970.60px;top:221.68px;font-size:9.3px;color:#cfd1d6;font-weight:normal;transform:scaleX(0.86);transform-origin:0 50%;">98,000.00</div><div class="t" style="left:970.60px;top:248.56px;font-size:9.3px;color:#cfd1d6;font-weight:normal;transform:scaleX(0.86);transform-origin:0 50%;">94,000.00</div><div class="t" style="left:970.60px;top:276.60px;font-size:9.3px;color:#cfd1d6;font-weight:normal;transform:scaleX(0.86);transform-origin:0 50%;">90,000.00</div><div class="t" style="left:970.60px;top:298.47px;font-size:9.3px;color:#cfd1d6;font-weight:normal;transform:scaleX(0.86);transform-origin:0 50%;">87,000.00</div><div class="t" style="left:970.60px;top:321.10px;font-size:9.3px;color:#cfd1d6;font-weight:normal;transform:scaleX(0.86);transform-origin:0 50%;">84,000.00</div><div class="t" style="left:970.60px;top:344.56px;font-size:9.3px;color:#cfd1d6;font-weight:normal;transform:scaleX(0.86);transform-origin:0 50%;">81,000.00</div><div class="t" style="left:970.60px;top:368.90px;font-size:9.3px;color:#cfd1d6;font-weight:normal;transform:scaleX(0.86);transform-origin:0 50%;">78,000.00</div><div class="t" style="left:970.60px;top:392.48px;font-size:9.3px;color:#cfd1d6;font-weight:normal;transform:scaleX(0.86);transform-origin:0 50%;">75,200.00</div><div class="t" style="left:970.60px;top:413.40px;font-size:9.3px;color:#cfd1d6;font-weight:normal;transform:scaleX(0.86);transform-origin:0 50%;">72,800.00</div><div class="t" style="left:970.60px;top:196.27px;font-size:9.3px;color:#cfd1d6;font-weight:normal;transform:scaleX(0.86);transform-origin:0 50%;">102,000.00</div><div class="t" style="left:29.70px;top:179.30px;font-size:5.0px;color:#c8801c;font-weight:bold;transform:translate(-50%,-50%) scaleX(0.8);">BOS</div><div class="t" style="left:80.80px;top:206.00px;font-size:5.0px;color:#c8801c;font-weight:bold;transform:translate(-50%,-50%) scaleX(0.8);">BOS</div><div class="t" style="left:106.60px;top:188.50px;font-size:5.0px;color:#c8801c;font-weight:bold;transform:translate(-50%,-50%) scaleX(0.8);">BOS</div><div class="t" style="left:147.70px;top:236.30px;font-size:5.0px;color:#b0283f;font-weight:bold;transform:translate(-50%,-50%) scaleX(0.8);">CHoCH</div><div class="t" style="left:198.50px;top:266.10px;font-size:5.0px;color:#b0283f;font-weight:bold;transform:translate(-50%,-50%) scaleX(0.8);">BOS</div><div class="t" style="left:273.30px;top:394.10px;font-size:5.0px;color:#b0283f;font-weight:bold;transform:translate(-50%,-50%) scaleX(0.8);">BOS</div><div class="t" style="left:328.40px;top:299.70px;font-size:5.0px;color:#c8801c;font-weight:bold;transform:translate(-50%,-50%) scaleX(0.8);">CHoCH</div><div class="t" style="left:352.20px;top:234.00px;font-size:5.0px;color:#c8801c;font-weight:bold;transform:translate(-50%,-50%) scaleX(0.8);">BOS</div><div class="t" style="left:368.60px;top:219.80px;font-size:5.0px;color:#c8801c;font-weight:bold;transform:translate(-50%,-50%) scaleX(0.8);">BOS</div><div class="t" style="left:391.60px;top:169.50px;font-size:5.0px;color:#c8801c;font-weight:bold;transform:translate(-50%,-50%) scaleX(0.8);">BOS</div><div class="t" style="left:467.80px;top:205.60px;font-size:5.0px;color:#b0283f;font-weight:bold;transform:translate(-50%,-50%) scaleX(0.8);">CHoCH</div><div class="t" style="left:486.80px;top:150.80px;font-size:5.0px;color:#c8801c;font-weight:bold;transform:translate(-50%,-50%) scaleX(0.8);">CHoCH</div><div class="t" style="left:511.80px;top:141.50px;font-size:5.0px;color:#c8801c;font-weight:bold;transform:translate(-50%,-50%) scaleX(0.8);">BOS</div><div class="t" style="left:582.40px;top:89.30px;font-size:5.0px;color:#c8801c;font-weight:bold;transform:translate(-50%,-50%) scaleX(0.8);">CHoCH</div><div class="t" style="left:564.80px;top:133.60px;font-size:5.0px;color:#b0283f;font-weight:bold;transform:translate(-50%,-50%) scaleX(0.8);">CHoCH</div><div class="t" style="left:602.30px;top:150.10px;font-size:5.0px;color:#b0283f;font-weight:bold;transform:translate(-50%,-50%) scaleX(0.8);">CHoCH</div><div class="t" style="left:725.50px;top:168.80px;font-size:5.0px;color:#b0283f;font-weight:bold;opacity:0.55;transform:translate(-50%,-50%) scaleX(0.8);">CHoCH</div><div class="t" style="left:771.50px;top:199.30px;font-size:5.0px;color:#c9808a;font-weight:bold;transform:translate(-50%,-50%) scaleX(0.8);">BOS</div><div class="t" style="left:700.50px;top:100.10px;font-size:5.0px;color:#c8801c;font-weight:bold;transform:translate(-50%,-50%) scaleX(0.8);">CHoCH</div><div class="t" style="left:267.00px;top:144.50px;font-size:6.6px;color:#2a5bd7;font-weight:bold;transform:translate(-50%,-50%) scaleX(0.8);">BOS</div><div class="t" style="left:665.80px;top:62.70px;font-size:6.6px;color:#2a5bd7;font-weight:bold;transform:translate(-50%,-50%) scaleX(0.8);">BOS</div><div class="t" style="left:856.00px;top:55.60px;font-size:5.6px;color:#b0283f;font-weight:bold;transform:translate(-50%,-50%) scaleX(0.8);">Weak High</div><div class="t" style="left:856.00px;top:411.60px;font-size:5.6px;color:#2a5bd7;font-weight:bold;transform:translate(-50%,-50%) scaleX(0.8);">Strong Low</div>
<div id="clip"><div class="t" style="left:2.00px;top:419.70px;font-size:9.3px;color:#cfd1d6;font-weight:normal;transform:translateX(-50%) scaleX(0.86);">Dec</div><div class="t" style="left:74.00px;top:419.70px;font-size:9.3px;color:#cfd1d6;font-weight:normal;transform:translateX(-50%) scaleX(0.86);">2025</div><div class="t" style="left:146.00px;top:419.70px;font-size:9.3px;color:#cfd1d6;font-weight:normal;transform:translateX(-50%) scaleX(0.86);">Feb</div><div class="t" style="left:210.80px;top:419.70px;font-size:9.3px;color:#cfd1d6;font-weight:normal;transform:translateX(-50%) scaleX(0.86);">Mar</div><div class="t" style="left:285.00px;top:419.70px;font-size:9.3px;color:#cfd1d6;font-weight:normal;transform:translateX(-50%) scaleX(0.86);">Apr</div><div class="t" style="left:354.00px;top:419.70px;font-size:9.3px;color:#cfd1d6;font-weight:normal;transform:translateX(-50%) scaleX(0.86);">May</div><div class="t" style="left:425.00px;top:419.70px;font-size:9.3px;color:#cfd1d6;font-weight:normal;transform:translateX(-50%) scaleX(0.86);">Jun</div><div class="t" style="left:495.00px;top:419.70px;font-size:9.3px;color:#cfd1d6;font-weight:normal;transform:translateX(-50%) scaleX(0.86);">Jul</div><div class="t" style="left:567.00px;top:419.70px;font-size:9.3px;color:#cfd1d6;font-weight:normal;transform:translateX(-50%) scaleX(0.86);">Aug</div><div class="t" style="left:638.00px;top:419.70px;font-size:9.3px;color:#cfd1d6;font-weight:normal;transform:translateX(-50%) scaleX(0.86);">Sep</div><div class="t" style="left:707.00px;top:419.70px;font-size:9.3px;color:#cfd1d6;font-weight:normal;transform:translateX(-50%) scaleX(0.86);">Oct</div><div class="t" style="left:780.00px;top:419.70px;font-size:9.3px;color:#cfd1d6;font-weight:normal;transform:translateX(-50%) scaleX(0.86);">Nov</div><div class="t" style="left:849.00px;top:419.70px;font-size:9.3px;color:#cfd1d6;font-weight:normal;transform:translateX(-50%) scaleX(0.86);">Dec</div><div class="t" style="left:921.00px;top:419.70px;font-size:9.3px;color:#cfd1d6;font-weight:normal;transform:translateX(-50%) scaleX(0.86);">2026</div></div>
<div style="position:absolute;left:926px;top:172.2px;width:38.1px;height:11.6px;background:#ff9800;border-radius:1.5px 0 0 1.5px;"></div>
<div class="t" style="left:929px;top:173.1px;font-size:8.9px;color:#2b1a00;transform:scaleX(0.765);transform-origin:0 0;">BTCUSDT</div>
<div style="position:absolute;left:965.1px;top:172.2px;width:49.9px;height:30.6px;background:#ff9800;border-radius:0 1.5px 1.5px 0;"></div>
<div class="t" style="left:971.2px;top:173.9px;font-size:9.1px;color:#2b1a00;line-height:9.4px;transform:scaleX(0.87);transform-origin:0 0;">105,767.20<br>+8.52%<br><span style="color:#6b4200">19:03:11</span></div>
<div class="t" style="left:33.2px;top:465.0px;font-size:14.3px;color:#dcdcdc;letter-spacing:0.22px;-webkit-text-stroke:0.7px #dcdcdc;">TradingView</div>
</div>
</body></html>
